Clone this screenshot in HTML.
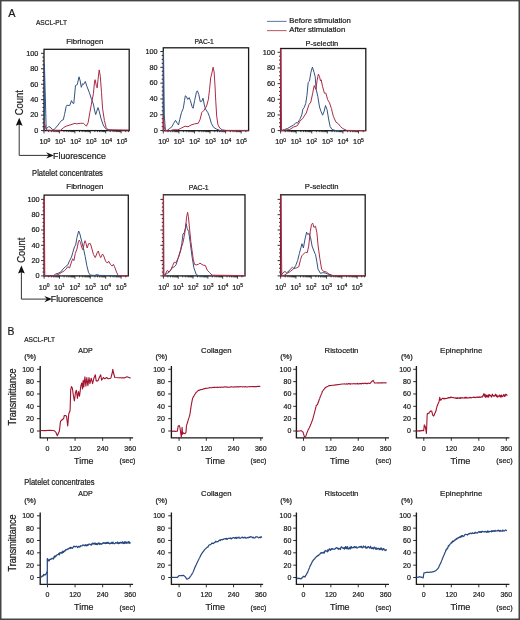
<!DOCTYPE html><html><head><meta charset="utf-8"><style>html,body{margin:0;padding:0;background:#fff;}svg{display:block;will-change:transform;}text{font-family:"Liberation Sans",sans-serif;fill:#1c1c1c;stroke:#1c1c1c;stroke-width:0.22px;}</style></head><body>
<svg width="520" height="620" viewBox="0 0 520 620">
<rect x="0" y="0" width="520" height="620" fill="#fff"/>
<text x="8.30" y="16.80" font-size="10.8" stroke-width="0.08">A</text>
<text x="35.90" y="24.60" font-size="7.9" textLength="31.10" lengthAdjust="spacingAndGlyphs">ASCL-PLT</text>
<line x1="267" y1="21.4" x2="286.6" y2="21.4" stroke="#6a83aa" stroke-width="1.1"/>
<line x1="267" y1="30.6" x2="286.6" y2="30.6" stroke="#c0606f" stroke-width="1.1"/>
<text x="289.30" y="23.00" font-size="7.5" textLength="61.60" lengthAdjust="spacingAndGlyphs">Before stimulation</text>
<text x="289.30" y="31.70" font-size="7.5" textLength="56.00" lengthAdjust="spacingAndGlyphs">After stimulation</text>
<rect x="44.00" y="49.30" width="85.20" height="81.30" fill="none" stroke="#1a1a1a" stroke-width="1.3"/>
<line x1="41.00" y1="130.60" x2="44.00" y2="130.60" stroke="#1a1a1a" stroke-width="0.9"/>
<line x1="42.40" y1="126.73" x2="44.00" y2="126.73" stroke="#1a1a1a" stroke-width="0.9"/>
<line x1="42.40" y1="122.87" x2="44.00" y2="122.87" stroke="#1a1a1a" stroke-width="0.9"/>
<line x1="42.40" y1="119.00" x2="44.00" y2="119.00" stroke="#1a1a1a" stroke-width="0.9"/>
<line x1="41.00" y1="115.14" x2="44.00" y2="115.14" stroke="#1a1a1a" stroke-width="0.9"/>
<line x1="42.40" y1="111.27" x2="44.00" y2="111.27" stroke="#1a1a1a" stroke-width="0.9"/>
<line x1="42.40" y1="107.41" x2="44.00" y2="107.41" stroke="#1a1a1a" stroke-width="0.9"/>
<line x1="42.40" y1="103.54" x2="44.00" y2="103.54" stroke="#1a1a1a" stroke-width="0.9"/>
<line x1="41.00" y1="99.68" x2="44.00" y2="99.68" stroke="#1a1a1a" stroke-width="0.9"/>
<line x1="42.40" y1="95.81" x2="44.00" y2="95.81" stroke="#1a1a1a" stroke-width="0.9"/>
<line x1="42.40" y1="91.95" x2="44.00" y2="91.95" stroke="#1a1a1a" stroke-width="0.9"/>
<line x1="42.40" y1="88.08" x2="44.00" y2="88.08" stroke="#1a1a1a" stroke-width="0.9"/>
<line x1="41.00" y1="84.22" x2="44.00" y2="84.22" stroke="#1a1a1a" stroke-width="0.9"/>
<line x1="42.40" y1="80.35" x2="44.00" y2="80.35" stroke="#1a1a1a" stroke-width="0.9"/>
<line x1="42.40" y1="76.49" x2="44.00" y2="76.49" stroke="#1a1a1a" stroke-width="0.9"/>
<line x1="42.40" y1="72.62" x2="44.00" y2="72.62" stroke="#1a1a1a" stroke-width="0.9"/>
<line x1="41.00" y1="68.76" x2="44.00" y2="68.76" stroke="#1a1a1a" stroke-width="0.9"/>
<line x1="42.40" y1="64.89" x2="44.00" y2="64.89" stroke="#1a1a1a" stroke-width="0.9"/>
<line x1="42.40" y1="61.03" x2="44.00" y2="61.03" stroke="#1a1a1a" stroke-width="0.9"/>
<line x1="42.40" y1="57.16" x2="44.00" y2="57.16" stroke="#1a1a1a" stroke-width="0.9"/>
<line x1="41.00" y1="53.30" x2="44.00" y2="53.30" stroke="#1a1a1a" stroke-width="0.9"/>
<line x1="44.00" y1="130.60" x2="44.00" y2="133.40" stroke="#1a1a1a" stroke-width="0.8"/>
<line x1="48.64" y1="130.60" x2="48.64" y2="132.10" stroke="#1a1a1a" stroke-width="0.8"/>
<line x1="51.36" y1="130.60" x2="51.36" y2="132.10" stroke="#1a1a1a" stroke-width="0.8"/>
<line x1="53.28" y1="130.60" x2="53.28" y2="132.10" stroke="#1a1a1a" stroke-width="0.8"/>
<line x1="54.78" y1="130.60" x2="54.78" y2="132.10" stroke="#1a1a1a" stroke-width="0.8"/>
<line x1="56.00" y1="130.60" x2="56.00" y2="132.10" stroke="#1a1a1a" stroke-width="0.8"/>
<line x1="57.03" y1="130.60" x2="57.03" y2="132.10" stroke="#1a1a1a" stroke-width="0.8"/>
<line x1="57.93" y1="130.60" x2="57.93" y2="132.10" stroke="#1a1a1a" stroke-width="0.8"/>
<line x1="58.71" y1="130.60" x2="58.71" y2="132.10" stroke="#1a1a1a" stroke-width="0.8"/>
<line x1="59.42" y1="130.60" x2="59.42" y2="133.40" stroke="#1a1a1a" stroke-width="0.8"/>
<line x1="64.06" y1="130.60" x2="64.06" y2="132.10" stroke="#1a1a1a" stroke-width="0.8"/>
<line x1="66.78" y1="130.60" x2="66.78" y2="132.10" stroke="#1a1a1a" stroke-width="0.8"/>
<line x1="68.70" y1="130.60" x2="68.70" y2="132.10" stroke="#1a1a1a" stroke-width="0.8"/>
<line x1="70.20" y1="130.60" x2="70.20" y2="132.10" stroke="#1a1a1a" stroke-width="0.8"/>
<line x1="71.42" y1="130.60" x2="71.42" y2="132.10" stroke="#1a1a1a" stroke-width="0.8"/>
<line x1="72.45" y1="130.60" x2="72.45" y2="132.10" stroke="#1a1a1a" stroke-width="0.8"/>
<line x1="73.35" y1="130.60" x2="73.35" y2="132.10" stroke="#1a1a1a" stroke-width="0.8"/>
<line x1="74.13" y1="130.60" x2="74.13" y2="132.10" stroke="#1a1a1a" stroke-width="0.8"/>
<line x1="74.84" y1="130.60" x2="74.84" y2="133.40" stroke="#1a1a1a" stroke-width="0.8"/>
<line x1="79.48" y1="130.60" x2="79.48" y2="132.10" stroke="#1a1a1a" stroke-width="0.8"/>
<line x1="82.20" y1="130.60" x2="82.20" y2="132.10" stroke="#1a1a1a" stroke-width="0.8"/>
<line x1="84.12" y1="130.60" x2="84.12" y2="132.10" stroke="#1a1a1a" stroke-width="0.8"/>
<line x1="85.62" y1="130.60" x2="85.62" y2="132.10" stroke="#1a1a1a" stroke-width="0.8"/>
<line x1="86.84" y1="130.60" x2="86.84" y2="132.10" stroke="#1a1a1a" stroke-width="0.8"/>
<line x1="87.87" y1="130.60" x2="87.87" y2="132.10" stroke="#1a1a1a" stroke-width="0.8"/>
<line x1="88.77" y1="130.60" x2="88.77" y2="132.10" stroke="#1a1a1a" stroke-width="0.8"/>
<line x1="89.55" y1="130.60" x2="89.55" y2="132.10" stroke="#1a1a1a" stroke-width="0.8"/>
<line x1="90.26" y1="130.60" x2="90.26" y2="133.40" stroke="#1a1a1a" stroke-width="0.8"/>
<line x1="94.90" y1="130.60" x2="94.90" y2="132.10" stroke="#1a1a1a" stroke-width="0.8"/>
<line x1="97.62" y1="130.60" x2="97.62" y2="132.10" stroke="#1a1a1a" stroke-width="0.8"/>
<line x1="99.54" y1="130.60" x2="99.54" y2="132.10" stroke="#1a1a1a" stroke-width="0.8"/>
<line x1="101.04" y1="130.60" x2="101.04" y2="132.10" stroke="#1a1a1a" stroke-width="0.8"/>
<line x1="102.26" y1="130.60" x2="102.26" y2="132.10" stroke="#1a1a1a" stroke-width="0.8"/>
<line x1="103.29" y1="130.60" x2="103.29" y2="132.10" stroke="#1a1a1a" stroke-width="0.8"/>
<line x1="104.19" y1="130.60" x2="104.19" y2="132.10" stroke="#1a1a1a" stroke-width="0.8"/>
<line x1="104.97" y1="130.60" x2="104.97" y2="132.10" stroke="#1a1a1a" stroke-width="0.8"/>
<line x1="105.68" y1="130.60" x2="105.68" y2="133.40" stroke="#1a1a1a" stroke-width="0.8"/>
<line x1="110.32" y1="130.60" x2="110.32" y2="132.10" stroke="#1a1a1a" stroke-width="0.8"/>
<line x1="113.04" y1="130.60" x2="113.04" y2="132.10" stroke="#1a1a1a" stroke-width="0.8"/>
<line x1="114.96" y1="130.60" x2="114.96" y2="132.10" stroke="#1a1a1a" stroke-width="0.8"/>
<line x1="116.46" y1="130.60" x2="116.46" y2="132.10" stroke="#1a1a1a" stroke-width="0.8"/>
<line x1="117.68" y1="130.60" x2="117.68" y2="132.10" stroke="#1a1a1a" stroke-width="0.8"/>
<line x1="118.71" y1="130.60" x2="118.71" y2="132.10" stroke="#1a1a1a" stroke-width="0.8"/>
<line x1="119.61" y1="130.60" x2="119.61" y2="132.10" stroke="#1a1a1a" stroke-width="0.8"/>
<line x1="120.39" y1="130.60" x2="120.39" y2="132.10" stroke="#1a1a1a" stroke-width="0.8"/>
<line x1="121.10" y1="130.60" x2="121.10" y2="133.40" stroke="#1a1a1a" stroke-width="0.8"/>
<line x1="125.74" y1="130.60" x2="125.74" y2="132.10" stroke="#1a1a1a" stroke-width="0.8"/>
<line x1="128.46" y1="130.60" x2="128.46" y2="132.10" stroke="#1a1a1a" stroke-width="0.8"/>
<text x="38.40" y="132.90" font-size="7.3" text-anchor="end">0</text>
<text x="38.40" y="117.44" font-size="7.3" text-anchor="end">20</text>
<text x="38.40" y="101.98" font-size="7.3" text-anchor="end">40</text>
<text x="38.40" y="86.52" font-size="7.3" text-anchor="end">60</text>
<text x="38.40" y="71.06" font-size="7.3" text-anchor="end">80</text>
<text x="38.40" y="55.60" font-size="7.3" text-anchor="end">100</text>
<text x="39.50" y="144.30" font-size="7.4" textLength="8.10" lengthAdjust="spacingAndGlyphs">10</text>
<text x="47.50" y="141.60" font-size="5.0">0</text>
<text x="54.92" y="144.30" font-size="7.4" textLength="8.10" lengthAdjust="spacingAndGlyphs">10</text>
<text x="62.92" y="141.60" font-size="5.0">1</text>
<text x="70.34" y="144.30" font-size="7.4" textLength="8.10" lengthAdjust="spacingAndGlyphs">10</text>
<text x="78.34" y="141.60" font-size="5.0">2</text>
<text x="85.76" y="144.30" font-size="7.4" textLength="8.10" lengthAdjust="spacingAndGlyphs">10</text>
<text x="93.76" y="141.60" font-size="5.0">3</text>
<text x="101.18" y="144.30" font-size="7.4" textLength="8.10" lengthAdjust="spacingAndGlyphs">10</text>
<text x="109.18" y="141.60" font-size="5.0">4</text>
<text x="116.60" y="144.30" font-size="7.4" textLength="8.10" lengthAdjust="spacingAndGlyphs">10</text>
<text x="124.60" y="141.60" font-size="5.0">5</text>
<text x="66.30" y="43.80" font-size="7.6" textLength="37.10" lengthAdjust="spacingAndGlyphs">Fibrinogen</text>
<rect x="163.30" y="47.80" width="85.30" height="82.90" fill="none" stroke="#1a1a1a" stroke-width="1.3"/>
<line x1="160.30" y1="130.60" x2="163.30" y2="130.60" stroke="#1a1a1a" stroke-width="0.9"/>
<line x1="161.70" y1="126.64" x2="163.30" y2="126.64" stroke="#1a1a1a" stroke-width="0.9"/>
<line x1="161.70" y1="122.69" x2="163.30" y2="122.69" stroke="#1a1a1a" stroke-width="0.9"/>
<line x1="161.70" y1="118.73" x2="163.30" y2="118.73" stroke="#1a1a1a" stroke-width="0.9"/>
<line x1="160.30" y1="114.78" x2="163.30" y2="114.78" stroke="#1a1a1a" stroke-width="0.9"/>
<line x1="161.70" y1="110.82" x2="163.30" y2="110.82" stroke="#1a1a1a" stroke-width="0.9"/>
<line x1="161.70" y1="106.87" x2="163.30" y2="106.87" stroke="#1a1a1a" stroke-width="0.9"/>
<line x1="161.70" y1="102.91" x2="163.30" y2="102.91" stroke="#1a1a1a" stroke-width="0.9"/>
<line x1="160.30" y1="98.96" x2="163.30" y2="98.96" stroke="#1a1a1a" stroke-width="0.9"/>
<line x1="161.70" y1="95.00" x2="163.30" y2="95.00" stroke="#1a1a1a" stroke-width="0.9"/>
<line x1="161.70" y1="91.05" x2="163.30" y2="91.05" stroke="#1a1a1a" stroke-width="0.9"/>
<line x1="161.70" y1="87.09" x2="163.30" y2="87.09" stroke="#1a1a1a" stroke-width="0.9"/>
<line x1="160.30" y1="83.14" x2="163.30" y2="83.14" stroke="#1a1a1a" stroke-width="0.9"/>
<line x1="161.70" y1="79.19" x2="163.30" y2="79.19" stroke="#1a1a1a" stroke-width="0.9"/>
<line x1="161.70" y1="75.23" x2="163.30" y2="75.23" stroke="#1a1a1a" stroke-width="0.9"/>
<line x1="161.70" y1="71.28" x2="163.30" y2="71.28" stroke="#1a1a1a" stroke-width="0.9"/>
<line x1="160.30" y1="67.32" x2="163.30" y2="67.32" stroke="#1a1a1a" stroke-width="0.9"/>
<line x1="161.70" y1="63.36" x2="163.30" y2="63.36" stroke="#1a1a1a" stroke-width="0.9"/>
<line x1="161.70" y1="59.41" x2="163.30" y2="59.41" stroke="#1a1a1a" stroke-width="0.9"/>
<line x1="161.70" y1="55.45" x2="163.30" y2="55.45" stroke="#1a1a1a" stroke-width="0.9"/>
<line x1="160.30" y1="51.50" x2="163.30" y2="51.50" stroke="#1a1a1a" stroke-width="0.9"/>
<line x1="163.30" y1="130.70" x2="163.30" y2="133.50" stroke="#1a1a1a" stroke-width="0.8"/>
<line x1="167.99" y1="130.70" x2="167.99" y2="132.20" stroke="#1a1a1a" stroke-width="0.8"/>
<line x1="170.73" y1="130.70" x2="170.73" y2="132.20" stroke="#1a1a1a" stroke-width="0.8"/>
<line x1="172.68" y1="130.70" x2="172.68" y2="132.20" stroke="#1a1a1a" stroke-width="0.8"/>
<line x1="174.19" y1="130.70" x2="174.19" y2="132.20" stroke="#1a1a1a" stroke-width="0.8"/>
<line x1="175.42" y1="130.70" x2="175.42" y2="132.20" stroke="#1a1a1a" stroke-width="0.8"/>
<line x1="176.47" y1="130.70" x2="176.47" y2="132.20" stroke="#1a1a1a" stroke-width="0.8"/>
<line x1="177.37" y1="130.70" x2="177.37" y2="132.20" stroke="#1a1a1a" stroke-width="0.8"/>
<line x1="178.17" y1="130.70" x2="178.17" y2="132.20" stroke="#1a1a1a" stroke-width="0.8"/>
<line x1="178.88" y1="130.70" x2="178.88" y2="133.50" stroke="#1a1a1a" stroke-width="0.8"/>
<line x1="183.57" y1="130.70" x2="183.57" y2="132.20" stroke="#1a1a1a" stroke-width="0.8"/>
<line x1="186.31" y1="130.70" x2="186.31" y2="132.20" stroke="#1a1a1a" stroke-width="0.8"/>
<line x1="188.26" y1="130.70" x2="188.26" y2="132.20" stroke="#1a1a1a" stroke-width="0.8"/>
<line x1="189.77" y1="130.70" x2="189.77" y2="132.20" stroke="#1a1a1a" stroke-width="0.8"/>
<line x1="191.00" y1="130.70" x2="191.00" y2="132.20" stroke="#1a1a1a" stroke-width="0.8"/>
<line x1="192.05" y1="130.70" x2="192.05" y2="132.20" stroke="#1a1a1a" stroke-width="0.8"/>
<line x1="192.95" y1="130.70" x2="192.95" y2="132.20" stroke="#1a1a1a" stroke-width="0.8"/>
<line x1="193.75" y1="130.70" x2="193.75" y2="132.20" stroke="#1a1a1a" stroke-width="0.8"/>
<line x1="194.46" y1="130.70" x2="194.46" y2="133.50" stroke="#1a1a1a" stroke-width="0.8"/>
<line x1="199.15" y1="130.70" x2="199.15" y2="132.20" stroke="#1a1a1a" stroke-width="0.8"/>
<line x1="201.89" y1="130.70" x2="201.89" y2="132.20" stroke="#1a1a1a" stroke-width="0.8"/>
<line x1="203.84" y1="130.70" x2="203.84" y2="132.20" stroke="#1a1a1a" stroke-width="0.8"/>
<line x1="205.35" y1="130.70" x2="205.35" y2="132.20" stroke="#1a1a1a" stroke-width="0.8"/>
<line x1="206.58" y1="130.70" x2="206.58" y2="132.20" stroke="#1a1a1a" stroke-width="0.8"/>
<line x1="207.63" y1="130.70" x2="207.63" y2="132.20" stroke="#1a1a1a" stroke-width="0.8"/>
<line x1="208.53" y1="130.70" x2="208.53" y2="132.20" stroke="#1a1a1a" stroke-width="0.8"/>
<line x1="209.33" y1="130.70" x2="209.33" y2="132.20" stroke="#1a1a1a" stroke-width="0.8"/>
<line x1="210.04" y1="130.70" x2="210.04" y2="133.50" stroke="#1a1a1a" stroke-width="0.8"/>
<line x1="214.73" y1="130.70" x2="214.73" y2="132.20" stroke="#1a1a1a" stroke-width="0.8"/>
<line x1="217.47" y1="130.70" x2="217.47" y2="132.20" stroke="#1a1a1a" stroke-width="0.8"/>
<line x1="219.42" y1="130.70" x2="219.42" y2="132.20" stroke="#1a1a1a" stroke-width="0.8"/>
<line x1="220.93" y1="130.70" x2="220.93" y2="132.20" stroke="#1a1a1a" stroke-width="0.8"/>
<line x1="222.16" y1="130.70" x2="222.16" y2="132.20" stroke="#1a1a1a" stroke-width="0.8"/>
<line x1="223.21" y1="130.70" x2="223.21" y2="132.20" stroke="#1a1a1a" stroke-width="0.8"/>
<line x1="224.11" y1="130.70" x2="224.11" y2="132.20" stroke="#1a1a1a" stroke-width="0.8"/>
<line x1="224.91" y1="130.70" x2="224.91" y2="132.20" stroke="#1a1a1a" stroke-width="0.8"/>
<line x1="225.62" y1="130.70" x2="225.62" y2="133.50" stroke="#1a1a1a" stroke-width="0.8"/>
<line x1="230.31" y1="130.70" x2="230.31" y2="132.20" stroke="#1a1a1a" stroke-width="0.8"/>
<line x1="233.05" y1="130.70" x2="233.05" y2="132.20" stroke="#1a1a1a" stroke-width="0.8"/>
<line x1="235.00" y1="130.70" x2="235.00" y2="132.20" stroke="#1a1a1a" stroke-width="0.8"/>
<line x1="236.51" y1="130.70" x2="236.51" y2="132.20" stroke="#1a1a1a" stroke-width="0.8"/>
<line x1="237.74" y1="130.70" x2="237.74" y2="132.20" stroke="#1a1a1a" stroke-width="0.8"/>
<line x1="238.79" y1="130.70" x2="238.79" y2="132.20" stroke="#1a1a1a" stroke-width="0.8"/>
<line x1="239.69" y1="130.70" x2="239.69" y2="132.20" stroke="#1a1a1a" stroke-width="0.8"/>
<line x1="240.49" y1="130.70" x2="240.49" y2="132.20" stroke="#1a1a1a" stroke-width="0.8"/>
<line x1="241.20" y1="130.70" x2="241.20" y2="133.50" stroke="#1a1a1a" stroke-width="0.8"/>
<line x1="245.89" y1="130.70" x2="245.89" y2="132.20" stroke="#1a1a1a" stroke-width="0.8"/>
<text x="157.70" y="132.90" font-size="7.3" text-anchor="end">0</text>
<text x="157.70" y="117.08" font-size="7.3" text-anchor="end">20</text>
<text x="157.70" y="101.26" font-size="7.3" text-anchor="end">40</text>
<text x="157.70" y="85.44" font-size="7.3" text-anchor="end">60</text>
<text x="157.70" y="69.62" font-size="7.3" text-anchor="end">80</text>
<text x="157.70" y="53.80" font-size="7.3" text-anchor="end">100</text>
<text x="158.20" y="144.30" font-size="7.4" textLength="8.10" lengthAdjust="spacingAndGlyphs">10</text>
<text x="166.20" y="141.60" font-size="5.0">0</text>
<text x="173.78" y="144.30" font-size="7.4" textLength="8.10" lengthAdjust="spacingAndGlyphs">10</text>
<text x="181.78" y="141.60" font-size="5.0">1</text>
<text x="189.36" y="144.30" font-size="7.4" textLength="8.10" lengthAdjust="spacingAndGlyphs">10</text>
<text x="197.36" y="141.60" font-size="5.0">2</text>
<text x="204.94" y="144.30" font-size="7.4" textLength="8.10" lengthAdjust="spacingAndGlyphs">10</text>
<text x="212.94" y="141.60" font-size="5.0">3</text>
<text x="220.52" y="144.30" font-size="7.4" textLength="8.10" lengthAdjust="spacingAndGlyphs">10</text>
<text x="228.52" y="141.60" font-size="5.0">4</text>
<text x="236.10" y="144.30" font-size="7.4" textLength="8.10" lengthAdjust="spacingAndGlyphs">10</text>
<text x="244.10" y="141.60" font-size="5.0">5</text>
<text x="194.50" y="43.80" font-size="7.6" textLength="19.30" lengthAdjust="spacingAndGlyphs">PAC-1</text>
<rect x="280.60" y="48.50" width="85.20" height="82.20" fill="none" stroke="#1a1a1a" stroke-width="1.3"/>
<line x1="277.60" y1="130.60" x2="280.60" y2="130.60" stroke="#1a1a1a" stroke-width="0.9"/>
<line x1="279.00" y1="126.68" x2="280.60" y2="126.68" stroke="#1a1a1a" stroke-width="0.9"/>
<line x1="279.00" y1="122.77" x2="280.60" y2="122.77" stroke="#1a1a1a" stroke-width="0.9"/>
<line x1="279.00" y1="118.85" x2="280.60" y2="118.85" stroke="#1a1a1a" stroke-width="0.9"/>
<line x1="277.60" y1="114.94" x2="280.60" y2="114.94" stroke="#1a1a1a" stroke-width="0.9"/>
<line x1="279.00" y1="111.02" x2="280.60" y2="111.02" stroke="#1a1a1a" stroke-width="0.9"/>
<line x1="279.00" y1="107.11" x2="280.60" y2="107.11" stroke="#1a1a1a" stroke-width="0.9"/>
<line x1="279.00" y1="103.19" x2="280.60" y2="103.19" stroke="#1a1a1a" stroke-width="0.9"/>
<line x1="277.60" y1="99.28" x2="280.60" y2="99.28" stroke="#1a1a1a" stroke-width="0.9"/>
<line x1="279.00" y1="95.36" x2="280.60" y2="95.36" stroke="#1a1a1a" stroke-width="0.9"/>
<line x1="279.00" y1="91.45" x2="280.60" y2="91.45" stroke="#1a1a1a" stroke-width="0.9"/>
<line x1="279.00" y1="87.53" x2="280.60" y2="87.53" stroke="#1a1a1a" stroke-width="0.9"/>
<line x1="277.60" y1="83.62" x2="280.60" y2="83.62" stroke="#1a1a1a" stroke-width="0.9"/>
<line x1="279.00" y1="79.70" x2="280.60" y2="79.70" stroke="#1a1a1a" stroke-width="0.9"/>
<line x1="279.00" y1="75.79" x2="280.60" y2="75.79" stroke="#1a1a1a" stroke-width="0.9"/>
<line x1="279.00" y1="71.88" x2="280.60" y2="71.88" stroke="#1a1a1a" stroke-width="0.9"/>
<line x1="277.60" y1="67.96" x2="280.60" y2="67.96" stroke="#1a1a1a" stroke-width="0.9"/>
<line x1="279.00" y1="64.05" x2="280.60" y2="64.05" stroke="#1a1a1a" stroke-width="0.9"/>
<line x1="279.00" y1="60.13" x2="280.60" y2="60.13" stroke="#1a1a1a" stroke-width="0.9"/>
<line x1="279.00" y1="56.22" x2="280.60" y2="56.22" stroke="#1a1a1a" stroke-width="0.9"/>
<line x1="277.60" y1="52.30" x2="280.60" y2="52.30" stroke="#1a1a1a" stroke-width="0.9"/>
<line x1="280.60" y1="130.70" x2="280.60" y2="133.50" stroke="#1a1a1a" stroke-width="0.8"/>
<line x1="285.29" y1="130.70" x2="285.29" y2="132.20" stroke="#1a1a1a" stroke-width="0.8"/>
<line x1="288.03" y1="130.70" x2="288.03" y2="132.20" stroke="#1a1a1a" stroke-width="0.8"/>
<line x1="289.98" y1="130.70" x2="289.98" y2="132.20" stroke="#1a1a1a" stroke-width="0.8"/>
<line x1="291.49" y1="130.70" x2="291.49" y2="132.20" stroke="#1a1a1a" stroke-width="0.8"/>
<line x1="292.72" y1="130.70" x2="292.72" y2="132.20" stroke="#1a1a1a" stroke-width="0.8"/>
<line x1="293.77" y1="130.70" x2="293.77" y2="132.20" stroke="#1a1a1a" stroke-width="0.8"/>
<line x1="294.67" y1="130.70" x2="294.67" y2="132.20" stroke="#1a1a1a" stroke-width="0.8"/>
<line x1="295.47" y1="130.70" x2="295.47" y2="132.20" stroke="#1a1a1a" stroke-width="0.8"/>
<line x1="296.18" y1="130.70" x2="296.18" y2="133.50" stroke="#1a1a1a" stroke-width="0.8"/>
<line x1="300.87" y1="130.70" x2="300.87" y2="132.20" stroke="#1a1a1a" stroke-width="0.8"/>
<line x1="303.61" y1="130.70" x2="303.61" y2="132.20" stroke="#1a1a1a" stroke-width="0.8"/>
<line x1="305.56" y1="130.70" x2="305.56" y2="132.20" stroke="#1a1a1a" stroke-width="0.8"/>
<line x1="307.07" y1="130.70" x2="307.07" y2="132.20" stroke="#1a1a1a" stroke-width="0.8"/>
<line x1="308.30" y1="130.70" x2="308.30" y2="132.20" stroke="#1a1a1a" stroke-width="0.8"/>
<line x1="309.35" y1="130.70" x2="309.35" y2="132.20" stroke="#1a1a1a" stroke-width="0.8"/>
<line x1="310.25" y1="130.70" x2="310.25" y2="132.20" stroke="#1a1a1a" stroke-width="0.8"/>
<line x1="311.05" y1="130.70" x2="311.05" y2="132.20" stroke="#1a1a1a" stroke-width="0.8"/>
<line x1="311.76" y1="130.70" x2="311.76" y2="133.50" stroke="#1a1a1a" stroke-width="0.8"/>
<line x1="316.45" y1="130.70" x2="316.45" y2="132.20" stroke="#1a1a1a" stroke-width="0.8"/>
<line x1="319.19" y1="130.70" x2="319.19" y2="132.20" stroke="#1a1a1a" stroke-width="0.8"/>
<line x1="321.14" y1="130.70" x2="321.14" y2="132.20" stroke="#1a1a1a" stroke-width="0.8"/>
<line x1="322.65" y1="130.70" x2="322.65" y2="132.20" stroke="#1a1a1a" stroke-width="0.8"/>
<line x1="323.88" y1="130.70" x2="323.88" y2="132.20" stroke="#1a1a1a" stroke-width="0.8"/>
<line x1="324.93" y1="130.70" x2="324.93" y2="132.20" stroke="#1a1a1a" stroke-width="0.8"/>
<line x1="325.83" y1="130.70" x2="325.83" y2="132.20" stroke="#1a1a1a" stroke-width="0.8"/>
<line x1="326.63" y1="130.70" x2="326.63" y2="132.20" stroke="#1a1a1a" stroke-width="0.8"/>
<line x1="327.34" y1="130.70" x2="327.34" y2="133.50" stroke="#1a1a1a" stroke-width="0.8"/>
<line x1="332.03" y1="130.70" x2="332.03" y2="132.20" stroke="#1a1a1a" stroke-width="0.8"/>
<line x1="334.77" y1="130.70" x2="334.77" y2="132.20" stroke="#1a1a1a" stroke-width="0.8"/>
<line x1="336.72" y1="130.70" x2="336.72" y2="132.20" stroke="#1a1a1a" stroke-width="0.8"/>
<line x1="338.23" y1="130.70" x2="338.23" y2="132.20" stroke="#1a1a1a" stroke-width="0.8"/>
<line x1="339.46" y1="130.70" x2="339.46" y2="132.20" stroke="#1a1a1a" stroke-width="0.8"/>
<line x1="340.51" y1="130.70" x2="340.51" y2="132.20" stroke="#1a1a1a" stroke-width="0.8"/>
<line x1="341.41" y1="130.70" x2="341.41" y2="132.20" stroke="#1a1a1a" stroke-width="0.8"/>
<line x1="342.21" y1="130.70" x2="342.21" y2="132.20" stroke="#1a1a1a" stroke-width="0.8"/>
<line x1="342.92" y1="130.70" x2="342.92" y2="133.50" stroke="#1a1a1a" stroke-width="0.8"/>
<line x1="347.61" y1="130.70" x2="347.61" y2="132.20" stroke="#1a1a1a" stroke-width="0.8"/>
<line x1="350.35" y1="130.70" x2="350.35" y2="132.20" stroke="#1a1a1a" stroke-width="0.8"/>
<line x1="352.30" y1="130.70" x2="352.30" y2="132.20" stroke="#1a1a1a" stroke-width="0.8"/>
<line x1="353.81" y1="130.70" x2="353.81" y2="132.20" stroke="#1a1a1a" stroke-width="0.8"/>
<line x1="355.04" y1="130.70" x2="355.04" y2="132.20" stroke="#1a1a1a" stroke-width="0.8"/>
<line x1="356.09" y1="130.70" x2="356.09" y2="132.20" stroke="#1a1a1a" stroke-width="0.8"/>
<line x1="356.99" y1="130.70" x2="356.99" y2="132.20" stroke="#1a1a1a" stroke-width="0.8"/>
<line x1="357.79" y1="130.70" x2="357.79" y2="132.20" stroke="#1a1a1a" stroke-width="0.8"/>
<line x1="358.50" y1="130.70" x2="358.50" y2="133.50" stroke="#1a1a1a" stroke-width="0.8"/>
<line x1="363.19" y1="130.70" x2="363.19" y2="132.20" stroke="#1a1a1a" stroke-width="0.8"/>
<text x="275.00" y="132.90" font-size="7.3" text-anchor="end">0</text>
<text x="275.00" y="117.24" font-size="7.3" text-anchor="end">20</text>
<text x="275.00" y="101.58" font-size="7.3" text-anchor="end">40</text>
<text x="275.00" y="85.92" font-size="7.3" text-anchor="end">60</text>
<text x="275.00" y="70.26" font-size="7.3" text-anchor="end">80</text>
<text x="275.00" y="54.60" font-size="7.3" text-anchor="end">100</text>
<text x="275.20" y="144.30" font-size="7.4" textLength="8.10" lengthAdjust="spacingAndGlyphs">10</text>
<text x="283.20" y="141.60" font-size="5.0">0</text>
<text x="290.78" y="144.30" font-size="7.4" textLength="8.10" lengthAdjust="spacingAndGlyphs">10</text>
<text x="298.78" y="141.60" font-size="5.0">1</text>
<text x="306.36" y="144.30" font-size="7.4" textLength="8.10" lengthAdjust="spacingAndGlyphs">10</text>
<text x="314.36" y="141.60" font-size="5.0">2</text>
<text x="321.94" y="144.30" font-size="7.4" textLength="8.10" lengthAdjust="spacingAndGlyphs">10</text>
<text x="329.94" y="141.60" font-size="5.0">3</text>
<text x="337.52" y="144.30" font-size="7.4" textLength="8.10" lengthAdjust="spacingAndGlyphs">10</text>
<text x="345.52" y="141.60" font-size="5.0">4</text>
<text x="353.10" y="144.30" font-size="7.4" textLength="8.10" lengthAdjust="spacingAndGlyphs">10</text>
<text x="361.10" y="141.60" font-size="5.0">5</text>
<text x="305.60" y="45.50" font-size="7.6" textLength="32.60" lengthAdjust="spacingAndGlyphs">P-selectin</text>
<polyline points="44.40,130.50 44.40,63.90 46.20,129.00 48.70,126.50 50.00,127.10 52.80,129.60 54.00,129.70 58.10,125.00 59.70,122.80 61.60,120.40 63.30,119.80 64.50,114.60 66.20,106.50 66.80,105.30 69.70,105.50 71.50,100.60 72.60,103.00 73.80,103.50 75.50,85.50 77.30,84.60 79.00,76.80 80.20,80.90 81.30,87.30 82.50,83.80 83.60,84.40 85.30,81.50 87.00,86.70 89.30,92.50 91.60,99.50 93.40,104.10 94.50,110.00 95.70,114.60 96.80,111.10 98.00,107.60 99.20,111.10 100.90,118.10 103.20,125.00 105.50,128.50 107.90,130.00 112.50,130.30" fill="none" stroke="#34527f" stroke-width="1.0" stroke-linejoin="round" stroke-linecap="round"/>
<polyline points="44.10,122.00 46.40,130.10 50.00,130.30 60.40,130.30 63.90,127.40 66.20,126.20 70.90,124.70 75.00,123.30 76.70,123.90 80.20,123.30 83.50,123.30 86.40,126.20 88.10,122.70 89.90,112.30 91.60,103.00 93.40,93.70 94.50,82.10 95.10,79.70 96.30,85.50 97.20,87.90 98.00,79.70 99.20,69.90 100.30,76.30 101.50,92.50 102.60,108.80 104.40,120.40 106.10,127.40 107.90,129.70 128.80,130.10" fill="none" stroke="#ad2a46" stroke-width="1.0" stroke-linejoin="round" stroke-linecap="round"/>
<polyline points="163.50,130.50 163.50,51.00 164.30,115.00 165.40,130.40 167.20,130.40 169.50,128.60 171.90,126.80 173.70,123.30 175.50,120.30 177.30,123.30 178.50,125.00 179.70,119.70 181.50,112.50 183.30,108.30 184.50,100.60 185.30,95.80 186.30,96.40 187.70,99.40 189.20,97.60 190.40,100.60 192.00,106.50 193.10,108.30 194.60,100.60 196.40,92.20 197.40,90.80 198.80,94.60 200.30,101.80 201.80,101.20 203.00,98.20 204.20,104.20 205.40,108.90 207.80,112.50 209.50,116.70 211.30,123.30 213.70,127.40 216.70,129.20 220.30,130.60 225.10,130.80" fill="none" stroke="#34527f" stroke-width="1.0" stroke-linejoin="round" stroke-linecap="round"/>
<polyline points="163.40,130.50 163.40,116.00 164.20,126.80 165.40,131.00 169.50,130.80 173.10,129.80 177.90,129.80 180.30,128.60 185.10,126.20 188.00,126.80 191.00,125.00 194.60,123.90 198.20,123.30 200.00,119.70 201.80,112.50 204.20,110.10 206.60,106.00 208.40,99.40 209.50,89.80 210.70,77.90 211.90,73.10 213.10,67.20 214.10,71.90 214.90,83.90 215.80,101.80 216.70,116.10 217.90,124.50 219.70,128.00 222.10,129.80 226.30,130.40 248.00,130.40" fill="none" stroke="#ad2a46" stroke-width="1.0" stroke-linejoin="round" stroke-linecap="round"/>
<polyline points="281.20,130.50 282.10,130.20 284.60,129.50 287.80,128.30 291.00,126.40 293.60,125.10 296.10,122.50 297.40,123.20 299.90,119.30 301.80,114.90 302.90,109.20 304.40,107.20 305.70,103.40 306.90,95.80 308.20,82.40 309.50,81.10 310.80,72.80 312.40,67.10 314.00,72.20 315.20,76.70 316.20,89.40 317.80,96.50 319.50,107.00 321.00,111.50 322.60,115.20 324.20,111.10 325.50,105.50 327.00,109.50 328.80,120.00 330.10,126.40 332.00,129.50 335.80,130.60 343.50,130.80" fill="none" stroke="#34527f" stroke-width="1.0" stroke-linejoin="round" stroke-linecap="round"/>
<polyline points="280.80,130.50 280.80,48.80 281.50,130.60 284.60,130.20 289.70,129.50 293.60,127.00 297.40,125.70 299.90,121.30 302.50,118.70 306.30,113.00 308.90,104.70 310.80,102.10 312.70,93.20 314.20,85.60 315.90,89.40 317.10,80.50 318.40,74.10 319.50,76.50 320.50,81.00 321.20,79.80 322.50,86.20 324.40,93.20 325.90,93.20 327.60,99.60 329.50,102.80 331.40,108.50 333.30,116.20 335.80,121.90 338.40,123.80 340.30,126.40 342.80,128.60 346.70,130.40 365.10,130.60" fill="none" stroke="#ad2a46" stroke-width="1.0" stroke-linejoin="round" stroke-linecap="round"/>
<polyline points="19.20,122.80 19.20,155.40 48.80,155.40" fill="none" stroke="#333" stroke-width="1"/>
<path d="M19.20,117.80 L22.60,125.70 L19.20,124.50 L15.80,125.70 Z" fill="#111"/>
<path d="M53.80,155.40 L46.20,152.30 L48.60,155.40 L46.20,158.50 Z" fill="#111"/>
<text transform="translate(22.9,115.3) rotate(-90)" stroke-width="0.08" font-size="10.6" textLength="25.2" lengthAdjust="spacingAndGlyphs">Count</text>
<text x="53.10" y="158.60" font-size="9.6" textLength="52.70" lengthAdjust="spacingAndGlyphs" stroke-width="0.08">Fluorescence</text>
<text x="32.10" y="175.70" font-size="8.4" textLength="70.80" lengthAdjust="spacingAndGlyphs">Platelet concentrates</text>
<rect x="44.10" y="195.10" width="84.20" height="80.80" fill="none" stroke="#1a1a1a" stroke-width="1.3"/>
<line x1="41.10" y1="275.90" x2="44.10" y2="275.90" stroke="#1a1a1a" stroke-width="0.9"/>
<line x1="42.50" y1="272.07" x2="44.10" y2="272.07" stroke="#1a1a1a" stroke-width="0.9"/>
<line x1="42.50" y1="268.25" x2="44.10" y2="268.25" stroke="#1a1a1a" stroke-width="0.9"/>
<line x1="42.50" y1="264.42" x2="44.10" y2="264.42" stroke="#1a1a1a" stroke-width="0.9"/>
<line x1="41.10" y1="260.60" x2="44.10" y2="260.60" stroke="#1a1a1a" stroke-width="0.9"/>
<line x1="42.50" y1="256.77" x2="44.10" y2="256.77" stroke="#1a1a1a" stroke-width="0.9"/>
<line x1="42.50" y1="252.95" x2="44.10" y2="252.95" stroke="#1a1a1a" stroke-width="0.9"/>
<line x1="42.50" y1="249.12" x2="44.10" y2="249.12" stroke="#1a1a1a" stroke-width="0.9"/>
<line x1="41.10" y1="245.30" x2="44.10" y2="245.30" stroke="#1a1a1a" stroke-width="0.9"/>
<line x1="42.50" y1="241.47" x2="44.10" y2="241.47" stroke="#1a1a1a" stroke-width="0.9"/>
<line x1="42.50" y1="237.65" x2="44.10" y2="237.65" stroke="#1a1a1a" stroke-width="0.9"/>
<line x1="42.50" y1="233.82" x2="44.10" y2="233.82" stroke="#1a1a1a" stroke-width="0.9"/>
<line x1="41.10" y1="230.00" x2="44.10" y2="230.00" stroke="#1a1a1a" stroke-width="0.9"/>
<line x1="42.50" y1="226.18" x2="44.10" y2="226.18" stroke="#1a1a1a" stroke-width="0.9"/>
<line x1="42.50" y1="222.35" x2="44.10" y2="222.35" stroke="#1a1a1a" stroke-width="0.9"/>
<line x1="42.50" y1="218.53" x2="44.10" y2="218.53" stroke="#1a1a1a" stroke-width="0.9"/>
<line x1="41.10" y1="214.70" x2="44.10" y2="214.70" stroke="#1a1a1a" stroke-width="0.9"/>
<line x1="42.50" y1="210.88" x2="44.10" y2="210.88" stroke="#1a1a1a" stroke-width="0.9"/>
<line x1="42.50" y1="207.05" x2="44.10" y2="207.05" stroke="#1a1a1a" stroke-width="0.9"/>
<line x1="42.50" y1="203.23" x2="44.10" y2="203.23" stroke="#1a1a1a" stroke-width="0.9"/>
<line x1="41.10" y1="199.40" x2="44.10" y2="199.40" stroke="#1a1a1a" stroke-width="0.9"/>
<line x1="44.10" y1="275.90" x2="44.10" y2="278.70" stroke="#1a1a1a" stroke-width="0.8"/>
<line x1="48.74" y1="275.90" x2="48.74" y2="277.40" stroke="#1a1a1a" stroke-width="0.8"/>
<line x1="51.45" y1="275.90" x2="51.45" y2="277.40" stroke="#1a1a1a" stroke-width="0.8"/>
<line x1="53.37" y1="275.90" x2="53.37" y2="277.40" stroke="#1a1a1a" stroke-width="0.8"/>
<line x1="54.86" y1="275.90" x2="54.86" y2="277.40" stroke="#1a1a1a" stroke-width="0.8"/>
<line x1="56.08" y1="275.90" x2="56.08" y2="277.40" stroke="#1a1a1a" stroke-width="0.8"/>
<line x1="57.11" y1="275.90" x2="57.11" y2="277.40" stroke="#1a1a1a" stroke-width="0.8"/>
<line x1="58.01" y1="275.90" x2="58.01" y2="277.40" stroke="#1a1a1a" stroke-width="0.8"/>
<line x1="58.80" y1="275.90" x2="58.80" y2="277.40" stroke="#1a1a1a" stroke-width="0.8"/>
<line x1="59.50" y1="275.90" x2="59.50" y2="278.70" stroke="#1a1a1a" stroke-width="0.8"/>
<line x1="64.14" y1="275.90" x2="64.14" y2="277.40" stroke="#1a1a1a" stroke-width="0.8"/>
<line x1="66.85" y1="275.90" x2="66.85" y2="277.40" stroke="#1a1a1a" stroke-width="0.8"/>
<line x1="68.77" y1="275.90" x2="68.77" y2="277.40" stroke="#1a1a1a" stroke-width="0.8"/>
<line x1="70.26" y1="275.90" x2="70.26" y2="277.40" stroke="#1a1a1a" stroke-width="0.8"/>
<line x1="71.48" y1="275.90" x2="71.48" y2="277.40" stroke="#1a1a1a" stroke-width="0.8"/>
<line x1="72.51" y1="275.90" x2="72.51" y2="277.40" stroke="#1a1a1a" stroke-width="0.8"/>
<line x1="73.41" y1="275.90" x2="73.41" y2="277.40" stroke="#1a1a1a" stroke-width="0.8"/>
<line x1="74.20" y1="275.90" x2="74.20" y2="277.40" stroke="#1a1a1a" stroke-width="0.8"/>
<line x1="74.90" y1="275.90" x2="74.90" y2="278.70" stroke="#1a1a1a" stroke-width="0.8"/>
<line x1="79.54" y1="275.90" x2="79.54" y2="277.40" stroke="#1a1a1a" stroke-width="0.8"/>
<line x1="82.25" y1="275.90" x2="82.25" y2="277.40" stroke="#1a1a1a" stroke-width="0.8"/>
<line x1="84.17" y1="275.90" x2="84.17" y2="277.40" stroke="#1a1a1a" stroke-width="0.8"/>
<line x1="85.66" y1="275.90" x2="85.66" y2="277.40" stroke="#1a1a1a" stroke-width="0.8"/>
<line x1="86.88" y1="275.90" x2="86.88" y2="277.40" stroke="#1a1a1a" stroke-width="0.8"/>
<line x1="87.91" y1="275.90" x2="87.91" y2="277.40" stroke="#1a1a1a" stroke-width="0.8"/>
<line x1="88.81" y1="275.90" x2="88.81" y2="277.40" stroke="#1a1a1a" stroke-width="0.8"/>
<line x1="89.60" y1="275.90" x2="89.60" y2="277.40" stroke="#1a1a1a" stroke-width="0.8"/>
<line x1="90.30" y1="275.90" x2="90.30" y2="278.70" stroke="#1a1a1a" stroke-width="0.8"/>
<line x1="94.94" y1="275.90" x2="94.94" y2="277.40" stroke="#1a1a1a" stroke-width="0.8"/>
<line x1="97.65" y1="275.90" x2="97.65" y2="277.40" stroke="#1a1a1a" stroke-width="0.8"/>
<line x1="99.57" y1="275.90" x2="99.57" y2="277.40" stroke="#1a1a1a" stroke-width="0.8"/>
<line x1="101.06" y1="275.90" x2="101.06" y2="277.40" stroke="#1a1a1a" stroke-width="0.8"/>
<line x1="102.28" y1="275.90" x2="102.28" y2="277.40" stroke="#1a1a1a" stroke-width="0.8"/>
<line x1="103.31" y1="275.90" x2="103.31" y2="277.40" stroke="#1a1a1a" stroke-width="0.8"/>
<line x1="104.21" y1="275.90" x2="104.21" y2="277.40" stroke="#1a1a1a" stroke-width="0.8"/>
<line x1="105.00" y1="275.90" x2="105.00" y2="277.40" stroke="#1a1a1a" stroke-width="0.8"/>
<line x1="105.70" y1="275.90" x2="105.70" y2="278.70" stroke="#1a1a1a" stroke-width="0.8"/>
<line x1="110.34" y1="275.90" x2="110.34" y2="277.40" stroke="#1a1a1a" stroke-width="0.8"/>
<line x1="113.05" y1="275.90" x2="113.05" y2="277.40" stroke="#1a1a1a" stroke-width="0.8"/>
<line x1="114.97" y1="275.90" x2="114.97" y2="277.40" stroke="#1a1a1a" stroke-width="0.8"/>
<line x1="116.46" y1="275.90" x2="116.46" y2="277.40" stroke="#1a1a1a" stroke-width="0.8"/>
<line x1="117.68" y1="275.90" x2="117.68" y2="277.40" stroke="#1a1a1a" stroke-width="0.8"/>
<line x1="118.71" y1="275.90" x2="118.71" y2="277.40" stroke="#1a1a1a" stroke-width="0.8"/>
<line x1="119.61" y1="275.90" x2="119.61" y2="277.40" stroke="#1a1a1a" stroke-width="0.8"/>
<line x1="120.40" y1="275.90" x2="120.40" y2="277.40" stroke="#1a1a1a" stroke-width="0.8"/>
<line x1="121.10" y1="275.90" x2="121.10" y2="278.70" stroke="#1a1a1a" stroke-width="0.8"/>
<line x1="125.74" y1="275.90" x2="125.74" y2="277.40" stroke="#1a1a1a" stroke-width="0.8"/>
<text x="39.60" y="278.20" font-size="7.3" text-anchor="end">0</text>
<text x="39.60" y="262.90" font-size="7.3" text-anchor="end">20</text>
<text x="39.60" y="247.60" font-size="7.3" text-anchor="end">40</text>
<text x="39.60" y="232.30" font-size="7.3" text-anchor="end">60</text>
<text x="39.60" y="217.00" font-size="7.3" text-anchor="end">80</text>
<text x="39.60" y="201.70" font-size="7.3" text-anchor="end">100</text>
<text x="38.70" y="289.80" font-size="7.4" textLength="8.10" lengthAdjust="spacingAndGlyphs">10</text>
<text x="46.70" y="287.10" font-size="5.0">0</text>
<text x="54.10" y="289.80" font-size="7.4" textLength="8.10" lengthAdjust="spacingAndGlyphs">10</text>
<text x="62.10" y="287.10" font-size="5.0">1</text>
<text x="69.50" y="289.80" font-size="7.4" textLength="8.10" lengthAdjust="spacingAndGlyphs">10</text>
<text x="77.50" y="287.10" font-size="5.0">2</text>
<text x="84.90" y="289.80" font-size="7.4" textLength="8.10" lengthAdjust="spacingAndGlyphs">10</text>
<text x="92.90" y="287.10" font-size="5.0">3</text>
<text x="100.30" y="289.80" font-size="7.4" textLength="8.10" lengthAdjust="spacingAndGlyphs">10</text>
<text x="108.30" y="287.10" font-size="5.0">4</text>
<text x="115.70" y="289.80" font-size="7.4" textLength="8.10" lengthAdjust="spacingAndGlyphs">10</text>
<text x="123.70" y="287.10" font-size="5.0">5</text>
<text x="66.35" y="188.50" font-size="7.6" textLength="37.05" lengthAdjust="spacingAndGlyphs">Fibrinogen</text>
<rect x="163.40" y="194.80" width="81.60" height="81.10" fill="none" stroke="#1a1a1a" stroke-width="1.3"/>
<line x1="160.40" y1="275.90" x2="163.40" y2="275.90" stroke="#1a1a1a" stroke-width="0.9"/>
<line x1="161.80" y1="272.07" x2="163.40" y2="272.07" stroke="#1a1a1a" stroke-width="0.9"/>
<line x1="161.80" y1="268.25" x2="163.40" y2="268.25" stroke="#1a1a1a" stroke-width="0.9"/>
<line x1="161.80" y1="264.42" x2="163.40" y2="264.42" stroke="#1a1a1a" stroke-width="0.9"/>
<line x1="160.40" y1="260.60" x2="163.40" y2="260.60" stroke="#1a1a1a" stroke-width="0.9"/>
<line x1="161.80" y1="256.77" x2="163.40" y2="256.77" stroke="#1a1a1a" stroke-width="0.9"/>
<line x1="161.80" y1="252.95" x2="163.40" y2="252.95" stroke="#1a1a1a" stroke-width="0.9"/>
<line x1="161.80" y1="249.12" x2="163.40" y2="249.12" stroke="#1a1a1a" stroke-width="0.9"/>
<line x1="160.40" y1="245.30" x2="163.40" y2="245.30" stroke="#1a1a1a" stroke-width="0.9"/>
<line x1="161.80" y1="241.47" x2="163.40" y2="241.47" stroke="#1a1a1a" stroke-width="0.9"/>
<line x1="161.80" y1="237.65" x2="163.40" y2="237.65" stroke="#1a1a1a" stroke-width="0.9"/>
<line x1="161.80" y1="233.82" x2="163.40" y2="233.82" stroke="#1a1a1a" stroke-width="0.9"/>
<line x1="160.40" y1="230.00" x2="163.40" y2="230.00" stroke="#1a1a1a" stroke-width="0.9"/>
<line x1="161.80" y1="226.18" x2="163.40" y2="226.18" stroke="#1a1a1a" stroke-width="0.9"/>
<line x1="161.80" y1="222.35" x2="163.40" y2="222.35" stroke="#1a1a1a" stroke-width="0.9"/>
<line x1="161.80" y1="218.53" x2="163.40" y2="218.53" stroke="#1a1a1a" stroke-width="0.9"/>
<line x1="160.40" y1="214.70" x2="163.40" y2="214.70" stroke="#1a1a1a" stroke-width="0.9"/>
<line x1="161.80" y1="210.88" x2="163.40" y2="210.88" stroke="#1a1a1a" stroke-width="0.9"/>
<line x1="161.80" y1="207.05" x2="163.40" y2="207.05" stroke="#1a1a1a" stroke-width="0.9"/>
<line x1="161.80" y1="203.23" x2="163.40" y2="203.23" stroke="#1a1a1a" stroke-width="0.9"/>
<line x1="160.40" y1="199.40" x2="163.40" y2="199.40" stroke="#1a1a1a" stroke-width="0.9"/>
<line x1="163.40" y1="275.90" x2="163.40" y2="278.70" stroke="#1a1a1a" stroke-width="0.8"/>
<line x1="167.86" y1="275.90" x2="167.86" y2="277.40" stroke="#1a1a1a" stroke-width="0.8"/>
<line x1="170.47" y1="275.90" x2="170.47" y2="277.40" stroke="#1a1a1a" stroke-width="0.8"/>
<line x1="172.32" y1="275.90" x2="172.32" y2="277.40" stroke="#1a1a1a" stroke-width="0.8"/>
<line x1="173.76" y1="275.90" x2="173.76" y2="277.40" stroke="#1a1a1a" stroke-width="0.8"/>
<line x1="174.93" y1="275.90" x2="174.93" y2="277.40" stroke="#1a1a1a" stroke-width="0.8"/>
<line x1="175.92" y1="275.90" x2="175.92" y2="277.40" stroke="#1a1a1a" stroke-width="0.8"/>
<line x1="176.78" y1="275.90" x2="176.78" y2="277.40" stroke="#1a1a1a" stroke-width="0.8"/>
<line x1="177.54" y1="275.90" x2="177.54" y2="277.40" stroke="#1a1a1a" stroke-width="0.8"/>
<line x1="178.22" y1="275.90" x2="178.22" y2="278.70" stroke="#1a1a1a" stroke-width="0.8"/>
<line x1="182.68" y1="275.90" x2="182.68" y2="277.40" stroke="#1a1a1a" stroke-width="0.8"/>
<line x1="185.29" y1="275.90" x2="185.29" y2="277.40" stroke="#1a1a1a" stroke-width="0.8"/>
<line x1="187.14" y1="275.90" x2="187.14" y2="277.40" stroke="#1a1a1a" stroke-width="0.8"/>
<line x1="188.58" y1="275.90" x2="188.58" y2="277.40" stroke="#1a1a1a" stroke-width="0.8"/>
<line x1="189.75" y1="275.90" x2="189.75" y2="277.40" stroke="#1a1a1a" stroke-width="0.8"/>
<line x1="190.74" y1="275.90" x2="190.74" y2="277.40" stroke="#1a1a1a" stroke-width="0.8"/>
<line x1="191.60" y1="275.90" x2="191.60" y2="277.40" stroke="#1a1a1a" stroke-width="0.8"/>
<line x1="192.36" y1="275.90" x2="192.36" y2="277.40" stroke="#1a1a1a" stroke-width="0.8"/>
<line x1="193.04" y1="275.90" x2="193.04" y2="278.70" stroke="#1a1a1a" stroke-width="0.8"/>
<line x1="197.50" y1="275.90" x2="197.50" y2="277.40" stroke="#1a1a1a" stroke-width="0.8"/>
<line x1="200.11" y1="275.90" x2="200.11" y2="277.40" stroke="#1a1a1a" stroke-width="0.8"/>
<line x1="201.96" y1="275.90" x2="201.96" y2="277.40" stroke="#1a1a1a" stroke-width="0.8"/>
<line x1="203.40" y1="275.90" x2="203.40" y2="277.40" stroke="#1a1a1a" stroke-width="0.8"/>
<line x1="204.57" y1="275.90" x2="204.57" y2="277.40" stroke="#1a1a1a" stroke-width="0.8"/>
<line x1="205.56" y1="275.90" x2="205.56" y2="277.40" stroke="#1a1a1a" stroke-width="0.8"/>
<line x1="206.42" y1="275.90" x2="206.42" y2="277.40" stroke="#1a1a1a" stroke-width="0.8"/>
<line x1="207.18" y1="275.90" x2="207.18" y2="277.40" stroke="#1a1a1a" stroke-width="0.8"/>
<line x1="207.86" y1="275.90" x2="207.86" y2="278.70" stroke="#1a1a1a" stroke-width="0.8"/>
<line x1="212.32" y1="275.90" x2="212.32" y2="277.40" stroke="#1a1a1a" stroke-width="0.8"/>
<line x1="214.93" y1="275.90" x2="214.93" y2="277.40" stroke="#1a1a1a" stroke-width="0.8"/>
<line x1="216.78" y1="275.90" x2="216.78" y2="277.40" stroke="#1a1a1a" stroke-width="0.8"/>
<line x1="218.22" y1="275.90" x2="218.22" y2="277.40" stroke="#1a1a1a" stroke-width="0.8"/>
<line x1="219.39" y1="275.90" x2="219.39" y2="277.40" stroke="#1a1a1a" stroke-width="0.8"/>
<line x1="220.38" y1="275.90" x2="220.38" y2="277.40" stroke="#1a1a1a" stroke-width="0.8"/>
<line x1="221.24" y1="275.90" x2="221.24" y2="277.40" stroke="#1a1a1a" stroke-width="0.8"/>
<line x1="222.00" y1="275.90" x2="222.00" y2="277.40" stroke="#1a1a1a" stroke-width="0.8"/>
<line x1="222.68" y1="275.90" x2="222.68" y2="278.70" stroke="#1a1a1a" stroke-width="0.8"/>
<line x1="227.14" y1="275.90" x2="227.14" y2="277.40" stroke="#1a1a1a" stroke-width="0.8"/>
<line x1="229.75" y1="275.90" x2="229.75" y2="277.40" stroke="#1a1a1a" stroke-width="0.8"/>
<line x1="231.60" y1="275.90" x2="231.60" y2="277.40" stroke="#1a1a1a" stroke-width="0.8"/>
<line x1="233.04" y1="275.90" x2="233.04" y2="277.40" stroke="#1a1a1a" stroke-width="0.8"/>
<line x1="234.21" y1="275.90" x2="234.21" y2="277.40" stroke="#1a1a1a" stroke-width="0.8"/>
<line x1="235.20" y1="275.90" x2="235.20" y2="277.40" stroke="#1a1a1a" stroke-width="0.8"/>
<line x1="236.06" y1="275.90" x2="236.06" y2="277.40" stroke="#1a1a1a" stroke-width="0.8"/>
<line x1="236.82" y1="275.90" x2="236.82" y2="277.40" stroke="#1a1a1a" stroke-width="0.8"/>
<line x1="237.50" y1="275.90" x2="237.50" y2="278.70" stroke="#1a1a1a" stroke-width="0.8"/>
<line x1="241.96" y1="275.90" x2="241.96" y2="277.40" stroke="#1a1a1a" stroke-width="0.8"/>
<text x="158.20" y="289.80" font-size="7.4" textLength="8.10" lengthAdjust="spacingAndGlyphs">10</text>
<text x="166.20" y="287.10" font-size="5.0">0</text>
<text x="173.02" y="289.80" font-size="7.4" textLength="8.10" lengthAdjust="spacingAndGlyphs">10</text>
<text x="181.02" y="287.10" font-size="5.0">1</text>
<text x="187.84" y="289.80" font-size="7.4" textLength="8.10" lengthAdjust="spacingAndGlyphs">10</text>
<text x="195.84" y="287.10" font-size="5.0">2</text>
<text x="202.66" y="289.80" font-size="7.4" textLength="8.10" lengthAdjust="spacingAndGlyphs">10</text>
<text x="210.66" y="287.10" font-size="5.0">3</text>
<text x="217.48" y="289.80" font-size="7.4" textLength="8.10" lengthAdjust="spacingAndGlyphs">10</text>
<text x="225.48" y="287.10" font-size="5.0">4</text>
<text x="232.30" y="289.80" font-size="7.4" textLength="8.10" lengthAdjust="spacingAndGlyphs">10</text>
<text x="240.30" y="287.10" font-size="5.0">5</text>
<text x="188.85" y="190.40" font-size="7.6" textLength="19.80" lengthAdjust="spacingAndGlyphs">PAC-1</text>
<rect x="280.60" y="194.80" width="84.60" height="81.10" fill="none" stroke="#1a1a1a" stroke-width="1.3"/>
<line x1="277.60" y1="275.90" x2="280.60" y2="275.90" stroke="#1a1a1a" stroke-width="0.9"/>
<line x1="279.00" y1="272.07" x2="280.60" y2="272.07" stroke="#1a1a1a" stroke-width="0.9"/>
<line x1="279.00" y1="268.25" x2="280.60" y2="268.25" stroke="#1a1a1a" stroke-width="0.9"/>
<line x1="279.00" y1="264.42" x2="280.60" y2="264.42" stroke="#1a1a1a" stroke-width="0.9"/>
<line x1="277.60" y1="260.60" x2="280.60" y2="260.60" stroke="#1a1a1a" stroke-width="0.9"/>
<line x1="279.00" y1="256.77" x2="280.60" y2="256.77" stroke="#1a1a1a" stroke-width="0.9"/>
<line x1="279.00" y1="252.95" x2="280.60" y2="252.95" stroke="#1a1a1a" stroke-width="0.9"/>
<line x1="279.00" y1="249.12" x2="280.60" y2="249.12" stroke="#1a1a1a" stroke-width="0.9"/>
<line x1="277.60" y1="245.30" x2="280.60" y2="245.30" stroke="#1a1a1a" stroke-width="0.9"/>
<line x1="279.00" y1="241.47" x2="280.60" y2="241.47" stroke="#1a1a1a" stroke-width="0.9"/>
<line x1="279.00" y1="237.65" x2="280.60" y2="237.65" stroke="#1a1a1a" stroke-width="0.9"/>
<line x1="279.00" y1="233.82" x2="280.60" y2="233.82" stroke="#1a1a1a" stroke-width="0.9"/>
<line x1="277.60" y1="230.00" x2="280.60" y2="230.00" stroke="#1a1a1a" stroke-width="0.9"/>
<line x1="279.00" y1="226.18" x2="280.60" y2="226.18" stroke="#1a1a1a" stroke-width="0.9"/>
<line x1="279.00" y1="222.35" x2="280.60" y2="222.35" stroke="#1a1a1a" stroke-width="0.9"/>
<line x1="279.00" y1="218.53" x2="280.60" y2="218.53" stroke="#1a1a1a" stroke-width="0.9"/>
<line x1="277.60" y1="214.70" x2="280.60" y2="214.70" stroke="#1a1a1a" stroke-width="0.9"/>
<line x1="279.00" y1="210.88" x2="280.60" y2="210.88" stroke="#1a1a1a" stroke-width="0.9"/>
<line x1="279.00" y1="207.05" x2="280.60" y2="207.05" stroke="#1a1a1a" stroke-width="0.9"/>
<line x1="279.00" y1="203.23" x2="280.60" y2="203.23" stroke="#1a1a1a" stroke-width="0.9"/>
<line x1="277.60" y1="199.40" x2="280.60" y2="199.40" stroke="#1a1a1a" stroke-width="0.9"/>
<line x1="280.60" y1="275.90" x2="280.60" y2="278.70" stroke="#1a1a1a" stroke-width="0.8"/>
<line x1="285.21" y1="275.90" x2="285.21" y2="277.40" stroke="#1a1a1a" stroke-width="0.8"/>
<line x1="287.91" y1="275.90" x2="287.91" y2="277.40" stroke="#1a1a1a" stroke-width="0.8"/>
<line x1="289.82" y1="275.90" x2="289.82" y2="277.40" stroke="#1a1a1a" stroke-width="0.8"/>
<line x1="291.31" y1="275.90" x2="291.31" y2="277.40" stroke="#1a1a1a" stroke-width="0.8"/>
<line x1="292.52" y1="275.90" x2="292.52" y2="277.40" stroke="#1a1a1a" stroke-width="0.8"/>
<line x1="293.55" y1="275.90" x2="293.55" y2="277.40" stroke="#1a1a1a" stroke-width="0.8"/>
<line x1="294.44" y1="275.90" x2="294.44" y2="277.40" stroke="#1a1a1a" stroke-width="0.8"/>
<line x1="295.22" y1="275.90" x2="295.22" y2="277.40" stroke="#1a1a1a" stroke-width="0.8"/>
<line x1="295.92" y1="275.90" x2="295.92" y2="278.70" stroke="#1a1a1a" stroke-width="0.8"/>
<line x1="300.53" y1="275.90" x2="300.53" y2="277.40" stroke="#1a1a1a" stroke-width="0.8"/>
<line x1="303.23" y1="275.90" x2="303.23" y2="277.40" stroke="#1a1a1a" stroke-width="0.8"/>
<line x1="305.14" y1="275.90" x2="305.14" y2="277.40" stroke="#1a1a1a" stroke-width="0.8"/>
<line x1="306.63" y1="275.90" x2="306.63" y2="277.40" stroke="#1a1a1a" stroke-width="0.8"/>
<line x1="307.84" y1="275.90" x2="307.84" y2="277.40" stroke="#1a1a1a" stroke-width="0.8"/>
<line x1="308.87" y1="275.90" x2="308.87" y2="277.40" stroke="#1a1a1a" stroke-width="0.8"/>
<line x1="309.76" y1="275.90" x2="309.76" y2="277.40" stroke="#1a1a1a" stroke-width="0.8"/>
<line x1="310.54" y1="275.90" x2="310.54" y2="277.40" stroke="#1a1a1a" stroke-width="0.8"/>
<line x1="311.24" y1="275.90" x2="311.24" y2="278.70" stroke="#1a1a1a" stroke-width="0.8"/>
<line x1="315.85" y1="275.90" x2="315.85" y2="277.40" stroke="#1a1a1a" stroke-width="0.8"/>
<line x1="318.55" y1="275.90" x2="318.55" y2="277.40" stroke="#1a1a1a" stroke-width="0.8"/>
<line x1="320.46" y1="275.90" x2="320.46" y2="277.40" stroke="#1a1a1a" stroke-width="0.8"/>
<line x1="321.95" y1="275.90" x2="321.95" y2="277.40" stroke="#1a1a1a" stroke-width="0.8"/>
<line x1="323.16" y1="275.90" x2="323.16" y2="277.40" stroke="#1a1a1a" stroke-width="0.8"/>
<line x1="324.19" y1="275.90" x2="324.19" y2="277.40" stroke="#1a1a1a" stroke-width="0.8"/>
<line x1="325.08" y1="275.90" x2="325.08" y2="277.40" stroke="#1a1a1a" stroke-width="0.8"/>
<line x1="325.86" y1="275.90" x2="325.86" y2="277.40" stroke="#1a1a1a" stroke-width="0.8"/>
<line x1="326.56" y1="275.90" x2="326.56" y2="278.70" stroke="#1a1a1a" stroke-width="0.8"/>
<line x1="331.17" y1="275.90" x2="331.17" y2="277.40" stroke="#1a1a1a" stroke-width="0.8"/>
<line x1="333.87" y1="275.90" x2="333.87" y2="277.40" stroke="#1a1a1a" stroke-width="0.8"/>
<line x1="335.78" y1="275.90" x2="335.78" y2="277.40" stroke="#1a1a1a" stroke-width="0.8"/>
<line x1="337.27" y1="275.90" x2="337.27" y2="277.40" stroke="#1a1a1a" stroke-width="0.8"/>
<line x1="338.48" y1="275.90" x2="338.48" y2="277.40" stroke="#1a1a1a" stroke-width="0.8"/>
<line x1="339.51" y1="275.90" x2="339.51" y2="277.40" stroke="#1a1a1a" stroke-width="0.8"/>
<line x1="340.40" y1="275.90" x2="340.40" y2="277.40" stroke="#1a1a1a" stroke-width="0.8"/>
<line x1="341.18" y1="275.90" x2="341.18" y2="277.40" stroke="#1a1a1a" stroke-width="0.8"/>
<line x1="341.88" y1="275.90" x2="341.88" y2="278.70" stroke="#1a1a1a" stroke-width="0.8"/>
<line x1="346.49" y1="275.90" x2="346.49" y2="277.40" stroke="#1a1a1a" stroke-width="0.8"/>
<line x1="349.19" y1="275.90" x2="349.19" y2="277.40" stroke="#1a1a1a" stroke-width="0.8"/>
<line x1="351.10" y1="275.90" x2="351.10" y2="277.40" stroke="#1a1a1a" stroke-width="0.8"/>
<line x1="352.59" y1="275.90" x2="352.59" y2="277.40" stroke="#1a1a1a" stroke-width="0.8"/>
<line x1="353.80" y1="275.90" x2="353.80" y2="277.40" stroke="#1a1a1a" stroke-width="0.8"/>
<line x1="354.83" y1="275.90" x2="354.83" y2="277.40" stroke="#1a1a1a" stroke-width="0.8"/>
<line x1="355.72" y1="275.90" x2="355.72" y2="277.40" stroke="#1a1a1a" stroke-width="0.8"/>
<line x1="356.50" y1="275.90" x2="356.50" y2="277.40" stroke="#1a1a1a" stroke-width="0.8"/>
<line x1="357.20" y1="275.90" x2="357.20" y2="278.70" stroke="#1a1a1a" stroke-width="0.8"/>
<line x1="361.81" y1="275.90" x2="361.81" y2="277.40" stroke="#1a1a1a" stroke-width="0.8"/>
<line x1="364.51" y1="275.90" x2="364.51" y2="277.40" stroke="#1a1a1a" stroke-width="0.8"/>
<text x="275.20" y="289.80" font-size="7.4" textLength="8.10" lengthAdjust="spacingAndGlyphs">10</text>
<text x="283.20" y="287.10" font-size="5.0">0</text>
<text x="290.52" y="289.80" font-size="7.4" textLength="8.10" lengthAdjust="spacingAndGlyphs">10</text>
<text x="298.52" y="287.10" font-size="5.0">1</text>
<text x="305.84" y="289.80" font-size="7.4" textLength="8.10" lengthAdjust="spacingAndGlyphs">10</text>
<text x="313.84" y="287.10" font-size="5.0">2</text>
<text x="321.16" y="289.80" font-size="7.4" textLength="8.10" lengthAdjust="spacingAndGlyphs">10</text>
<text x="329.16" y="287.10" font-size="5.0">3</text>
<text x="336.48" y="289.80" font-size="7.4" textLength="8.10" lengthAdjust="spacingAndGlyphs">10</text>
<text x="344.48" y="287.10" font-size="5.0">4</text>
<text x="351.80" y="289.80" font-size="7.4" textLength="8.10" lengthAdjust="spacingAndGlyphs">10</text>
<text x="359.80" y="287.10" font-size="5.0">5</text>
<text x="304.80" y="189.40" font-size="7.6" textLength="33.60" lengthAdjust="spacingAndGlyphs">P-selectin</text>
<polyline points="44.80,275.80 53.30,275.80 55.70,274.00 58.10,273.30 60.60,272.10 63.00,269.10 65.40,266.70 67.80,264.90 69.60,260.60 71.50,257.00 72.70,252.80 74.50,246.70 75.70,244.90 76.90,237.70 78.70,231.00 79.90,234.00 81.70,241.30 83.50,248.50 85.20,256.50 86.80,265.50 88.60,272.70 90.40,275.20 94.70,275.40 97.10,274.60 99.50,275.40 121.30,275.80" fill="none" stroke="#34527f" stroke-width="1.0" stroke-linejoin="round" stroke-linecap="round"/>
<polyline points="44.20,275.80 44.20,197.30 44.80,275.80 54.50,275.80 58.10,274.60 61.20,272.70 64.20,270.90 66.00,269.10 67.80,266.70 69.60,267.90 71.50,261.90 72.70,258.80 73.90,260.60 75.30,253.40 76.90,249.20 78.50,241.30 79.30,240.10 80.50,242.50 81.70,247.30 82.90,249.80 84.20,243.70 85.00,240.70 86.10,243.70 87.20,248.00 88.60,243.70 90.40,243.70 91.70,248.00 93.50,254.60 95.30,257.60 97.10,252.80 98.30,251.00 99.50,255.20 100.70,257.60 102.50,254.00 103.70,255.80 105.60,261.20 107.40,263.10 108.60,261.20 110.40,264.30 112.20,266.10 113.40,264.30 114.60,266.70 116.50,272.10 118.30,275.80 127.30,275.80" fill="none" stroke="#ad2a46" stroke-width="1.0" stroke-linejoin="round" stroke-linecap="round"/>
<polyline points="164.20,275.20 167.30,273.30 169.70,271.50 172.10,267.90 174.50,266.70 176.30,264.30 178.10,258.20 180.60,249.80 181.80,243.70 183.00,234.00 184.20,232.80 185.40,228.00 186.20,223.70 187.20,228.60 188.70,231.60 190.20,242.50 192.10,257.00 193.90,267.90 196.30,274.60 198.70,275.80 212.00,275.80" fill="none" stroke="#34527f" stroke-width="1.0" stroke-linejoin="round" stroke-linecap="round"/>
<polyline points="163.50,275.80 163.50,195.50 163.90,275.80 165.40,274.00 167.30,270.30 169.10,272.10 170.90,269.70 172.70,265.50 174.30,262.10 175.70,262.80 176.90,260.60 178.70,257.00 180.60,251.00 181.80,246.10 183.00,242.50 184.20,236.50 185.40,229.20 186.60,217.10 187.60,212.30 188.40,216.50 189.60,229.20 190.80,241.30 192.10,251.00 193.30,259.40 194.50,264.30 196.30,264.90 198.50,264.30 199.90,263.10 201.70,264.30 203.50,265.20 205.40,265.50 207.30,270.30 209.70,272.70 212.10,275.20 244.80,275.60" fill="none" stroke="#ad2a46" stroke-width="1.0" stroke-linejoin="round" stroke-linecap="round"/>
<polyline points="281.20,275.20 283.00,272.70 284.90,271.50 286.70,272.70 289.10,270.90 290.90,268.50 292.50,267.30 293.90,268.50 295.70,265.50 297.60,260.60 299.40,253.40 301.00,247.30 302.00,243.70 303.40,248.00 304.80,240.10 306.60,232.20 307.80,234.60 309.10,233.40 310.60,237.70 312.10,246.10 313.90,251.00 315.50,254.60 316.90,261.90 318.00,269.10 320.40,273.30 322.80,272.70 325.30,273.00 327.70,274.00 331.30,274.90 333.70,275.80" fill="none" stroke="#34527f" stroke-width="1.0" stroke-linejoin="round" stroke-linecap="round"/>
<polyline points="280.90,275.80 280.90,195.50 281.80,275.80 284.30,275.20 287.30,273.30 290.30,271.50 293.90,268.50 296.40,267.90 298.80,266.70 300.60,259.40 301.80,255.80 303.60,254.00 305.40,252.20 307.20,252.80 308.70,246.10 310.30,231.60 311.50,224.40 312.70,223.10 313.90,227.40 315.50,226.20 316.90,232.80 318.00,244.90 319.80,258.20 321.60,269.10 323.40,271.30 326.50,272.10 328.90,274.00 331.30,275.40 333.70,275.80 365.00,275.80" fill="none" stroke="#ad2a46" stroke-width="1.0" stroke-linejoin="round" stroke-linecap="round"/>
<polyline points="21.40,270.60 21.40,299.10 47.00,299.10" fill="none" stroke="#333" stroke-width="1"/>
<path d="M21.40,265.60 L24.80,273.50 L21.40,272.30 L18.00,273.50 Z" fill="#111"/>
<path d="M52.00,299.10 L44.40,296.00 L46.80,299.10 L44.40,302.20 Z" fill="#111"/>
<text transform="translate(25.0,262.8) rotate(-90)" stroke-width="0.08" font-size="10.6" textLength="25.1" lengthAdjust="spacingAndGlyphs">Count</text>
<text x="50.80" y="301.80" font-size="9.6" textLength="52.40" lengthAdjust="spacingAndGlyphs" stroke-width="0.08">Fluorescence</text>
<text x="7.50" y="334.90" font-size="10.4" stroke-width="0.08">B</text>
<text x="24.20" y="341.80" font-size="7.6" textLength="30.80" lengthAdjust="spacingAndGlyphs">ASCL-PLT</text>
<text x="24.20" y="484.70" font-size="8.4" textLength="70.40" lengthAdjust="spacingAndGlyphs">Platelet concentrates</text>
<polyline points="40.20,366.10 40.20,437.80 133.10,437.80" fill="none" stroke="#1a1a1a" stroke-width="1.35"/>
<line x1="37.00" y1="431.00" x2="40.20" y2="431.00" stroke="#1a1a1a" stroke-width="0.9"/>
<text x="33.90" y="433.45" font-size="7.0" text-anchor="end">0</text>
<line x1="37.00" y1="418.66" x2="40.20" y2="418.66" stroke="#1a1a1a" stroke-width="0.9"/>
<text x="33.90" y="421.11" font-size="7.0" text-anchor="end">20</text>
<line x1="37.00" y1="406.32" x2="40.20" y2="406.32" stroke="#1a1a1a" stroke-width="0.9"/>
<text x="33.90" y="408.77" font-size="7.0" text-anchor="end">40</text>
<line x1="37.00" y1="393.98" x2="40.20" y2="393.98" stroke="#1a1a1a" stroke-width="0.9"/>
<text x="33.90" y="396.43" font-size="7.0" text-anchor="end">60</text>
<line x1="37.00" y1="381.64" x2="40.20" y2="381.64" stroke="#1a1a1a" stroke-width="0.9"/>
<text x="33.90" y="384.09" font-size="7.0" text-anchor="end">80</text>
<line x1="37.00" y1="369.30" x2="40.20" y2="369.30" stroke="#1a1a1a" stroke-width="0.9"/>
<text x="33.90" y="371.75" font-size="7.0" text-anchor="end">100</text>
<line x1="47.50" y1="437.80" x2="47.50" y2="440.80" stroke="#1a1a1a" stroke-width="0.9"/>
<text x="47.50" y="450.70" font-size="7.0" text-anchor="middle">0</text>
<line x1="75.07" y1="437.80" x2="75.07" y2="440.80" stroke="#1a1a1a" stroke-width="0.9"/>
<text x="75.07" y="450.70" font-size="7.0" text-anchor="middle">120</text>
<line x1="102.64" y1="437.80" x2="102.64" y2="440.80" stroke="#1a1a1a" stroke-width="0.9"/>
<text x="102.64" y="450.70" font-size="7.0" text-anchor="middle">240</text>
<line x1="130.21" y1="437.80" x2="130.21" y2="440.80" stroke="#1a1a1a" stroke-width="0.9"/>
<text x="130.21" y="450.70" font-size="7.0" text-anchor="middle">360</text>
<text x="78.30" y="352.80" font-size="7.6" textLength="14.40" lengthAdjust="spacingAndGlyphs">ADP</text>
<text x="24.30" y="358.50" font-size="7.2" textLength="11.80" lengthAdjust="spacingAndGlyphs">(%)</text>
<text x="74.10" y="463.70" font-size="9.9" textLength="19.40" lengthAdjust="spacingAndGlyphs" stroke-width="0.08">Time</text>
<text x="119.60" y="463.30" font-size="7.2" textLength="15.80" lengthAdjust="spacingAndGlyphs">(sec)</text>
<polyline points="171.40,366.10 171.40,437.80 263.10,437.80" fill="none" stroke="#1a1a1a" stroke-width="1.35"/>
<line x1="168.20" y1="431.00" x2="171.40" y2="431.00" stroke="#1a1a1a" stroke-width="0.9"/>
<text x="164.90" y="433.45" font-size="7.0" text-anchor="end">0</text>
<line x1="168.20" y1="418.66" x2="171.40" y2="418.66" stroke="#1a1a1a" stroke-width="0.9"/>
<text x="164.90" y="421.11" font-size="7.0" text-anchor="end">20</text>
<line x1="168.20" y1="406.32" x2="171.40" y2="406.32" stroke="#1a1a1a" stroke-width="0.9"/>
<text x="164.90" y="408.77" font-size="7.0" text-anchor="end">40</text>
<line x1="168.20" y1="393.98" x2="171.40" y2="393.98" stroke="#1a1a1a" stroke-width="0.9"/>
<text x="164.90" y="396.43" font-size="7.0" text-anchor="end">60</text>
<line x1="168.20" y1="381.64" x2="171.40" y2="381.64" stroke="#1a1a1a" stroke-width="0.9"/>
<text x="164.90" y="384.09" font-size="7.0" text-anchor="end">80</text>
<line x1="168.20" y1="369.30" x2="171.40" y2="369.30" stroke="#1a1a1a" stroke-width="0.9"/>
<text x="164.90" y="371.75" font-size="7.0" text-anchor="end">100</text>
<line x1="179.10" y1="437.80" x2="179.10" y2="440.80" stroke="#1a1a1a" stroke-width="0.9"/>
<text x="179.10" y="450.70" font-size="7.0" text-anchor="middle">0</text>
<line x1="206.33" y1="437.80" x2="206.33" y2="440.80" stroke="#1a1a1a" stroke-width="0.9"/>
<text x="206.33" y="450.70" font-size="7.0" text-anchor="middle">120</text>
<line x1="233.56" y1="437.80" x2="233.56" y2="440.80" stroke="#1a1a1a" stroke-width="0.9"/>
<text x="233.56" y="450.70" font-size="7.0" text-anchor="middle">240</text>
<line x1="260.79" y1="437.80" x2="260.79" y2="440.80" stroke="#1a1a1a" stroke-width="0.9"/>
<text x="260.79" y="450.70" font-size="7.0" text-anchor="middle">360</text>
<text x="201.10" y="352.80" font-size="7.6" textLength="30.40" lengthAdjust="spacingAndGlyphs">Collagen</text>
<text x="155.50" y="358.50" font-size="7.2" textLength="11.80" lengthAdjust="spacingAndGlyphs">(%)</text>
<text x="205.40" y="463.70" font-size="9.9" textLength="19.70" lengthAdjust="spacingAndGlyphs" stroke-width="0.08">Time</text>
<text x="250.60" y="463.30" font-size="7.2" textLength="15.80" lengthAdjust="spacingAndGlyphs">(sec)</text>
<polyline points="296.40,366.10 296.40,437.80 389.00,437.80" fill="none" stroke="#1a1a1a" stroke-width="1.35"/>
<line x1="293.20" y1="431.00" x2="296.40" y2="431.00" stroke="#1a1a1a" stroke-width="0.9"/>
<text x="291.30" y="433.45" font-size="7.0" text-anchor="end">0</text>
<line x1="293.20" y1="418.66" x2="296.40" y2="418.66" stroke="#1a1a1a" stroke-width="0.9"/>
<text x="291.30" y="421.11" font-size="7.0" text-anchor="end">20</text>
<line x1="293.20" y1="406.32" x2="296.40" y2="406.32" stroke="#1a1a1a" stroke-width="0.9"/>
<text x="291.30" y="408.77" font-size="7.0" text-anchor="end">40</text>
<line x1="293.20" y1="393.98" x2="296.40" y2="393.98" stroke="#1a1a1a" stroke-width="0.9"/>
<text x="291.30" y="396.43" font-size="7.0" text-anchor="end">60</text>
<line x1="293.20" y1="381.64" x2="296.40" y2="381.64" stroke="#1a1a1a" stroke-width="0.9"/>
<text x="291.30" y="384.09" font-size="7.0" text-anchor="end">80</text>
<line x1="293.20" y1="369.30" x2="296.40" y2="369.30" stroke="#1a1a1a" stroke-width="0.9"/>
<text x="291.30" y="371.75" font-size="7.0" text-anchor="end">100</text>
<line x1="303.50" y1="437.80" x2="303.50" y2="440.80" stroke="#1a1a1a" stroke-width="0.9"/>
<text x="303.50" y="450.70" font-size="7.0" text-anchor="middle">0</text>
<line x1="330.87" y1="437.80" x2="330.87" y2="440.80" stroke="#1a1a1a" stroke-width="0.9"/>
<text x="330.87" y="450.70" font-size="7.0" text-anchor="middle">120</text>
<line x1="358.24" y1="437.80" x2="358.24" y2="440.80" stroke="#1a1a1a" stroke-width="0.9"/>
<text x="358.24" y="450.70" font-size="7.0" text-anchor="middle">240</text>
<line x1="385.61" y1="437.80" x2="385.61" y2="440.80" stroke="#1a1a1a" stroke-width="0.9"/>
<text x="385.61" y="450.70" font-size="7.0" text-anchor="middle">360</text>
<text x="324.60" y="352.80" font-size="7.6" textLength="33.80" lengthAdjust="spacingAndGlyphs">Ristocetin</text>
<text x="280.20" y="358.50" font-size="7.2" textLength="11.80" lengthAdjust="spacingAndGlyphs">(%)</text>
<text x="330.00" y="463.70" font-size="9.9" textLength="19.60" lengthAdjust="spacingAndGlyphs" stroke-width="0.08">Time</text>
<text x="375.60" y="463.30" font-size="7.2" textLength="15.80" lengthAdjust="spacingAndGlyphs">(sec)</text>
<polyline points="416.40,366.10 416.40,437.80 509.40,437.80" fill="none" stroke="#1a1a1a" stroke-width="1.35"/>
<line x1="413.20" y1="431.00" x2="416.40" y2="431.00" stroke="#1a1a1a" stroke-width="0.9"/>
<text x="410.90" y="433.45" font-size="7.0" text-anchor="end">0</text>
<line x1="413.20" y1="418.66" x2="416.40" y2="418.66" stroke="#1a1a1a" stroke-width="0.9"/>
<text x="410.90" y="421.11" font-size="7.0" text-anchor="end">20</text>
<line x1="413.20" y1="406.32" x2="416.40" y2="406.32" stroke="#1a1a1a" stroke-width="0.9"/>
<text x="410.90" y="408.77" font-size="7.0" text-anchor="end">40</text>
<line x1="413.20" y1="393.98" x2="416.40" y2="393.98" stroke="#1a1a1a" stroke-width="0.9"/>
<text x="410.90" y="396.43" font-size="7.0" text-anchor="end">60</text>
<line x1="413.20" y1="381.64" x2="416.40" y2="381.64" stroke="#1a1a1a" stroke-width="0.9"/>
<text x="410.90" y="384.09" font-size="7.0" text-anchor="end">80</text>
<line x1="413.20" y1="369.30" x2="416.40" y2="369.30" stroke="#1a1a1a" stroke-width="0.9"/>
<text x="410.90" y="371.75" font-size="7.0" text-anchor="end">100</text>
<line x1="423.80" y1="437.80" x2="423.80" y2="440.80" stroke="#1a1a1a" stroke-width="0.9"/>
<text x="423.80" y="450.70" font-size="7.0" text-anchor="middle">0</text>
<line x1="451.30" y1="437.80" x2="451.30" y2="440.80" stroke="#1a1a1a" stroke-width="0.9"/>
<text x="451.30" y="450.70" font-size="7.0" text-anchor="middle">120</text>
<line x1="478.80" y1="437.80" x2="478.80" y2="440.80" stroke="#1a1a1a" stroke-width="0.9"/>
<text x="478.80" y="450.70" font-size="7.0" text-anchor="middle">240</text>
<line x1="506.30" y1="437.80" x2="506.30" y2="440.80" stroke="#1a1a1a" stroke-width="0.9"/>
<text x="506.30" y="450.70" font-size="7.0" text-anchor="middle">360</text>
<text x="440.10" y="352.80" font-size="7.6" textLength="42.30" lengthAdjust="spacingAndGlyphs">Epinephrine</text>
<text x="400.90" y="358.50" font-size="7.2" textLength="11.80" lengthAdjust="spacingAndGlyphs">(%)</text>
<text x="450.40" y="463.70" font-size="9.9" textLength="19.90" lengthAdjust="spacingAndGlyphs" stroke-width="0.08">Time</text>
<text x="496.30" y="463.30" font-size="7.2" textLength="16.30" lengthAdjust="spacingAndGlyphs">(sec)</text>
<polyline points="40.20,512.60 40.20,584.30 133.10,584.30" fill="none" stroke="#1a1a1a" stroke-width="1.35"/>
<line x1="37.00" y1="577.50" x2="40.20" y2="577.50" stroke="#1a1a1a" stroke-width="0.9"/>
<text x="33.90" y="579.95" font-size="7.0" text-anchor="end">0</text>
<line x1="37.00" y1="565.16" x2="40.20" y2="565.16" stroke="#1a1a1a" stroke-width="0.9"/>
<text x="33.90" y="567.61" font-size="7.0" text-anchor="end">20</text>
<line x1="37.00" y1="552.82" x2="40.20" y2="552.82" stroke="#1a1a1a" stroke-width="0.9"/>
<text x="33.90" y="555.27" font-size="7.0" text-anchor="end">40</text>
<line x1="37.00" y1="540.48" x2="40.20" y2="540.48" stroke="#1a1a1a" stroke-width="0.9"/>
<text x="33.90" y="542.93" font-size="7.0" text-anchor="end">60</text>
<line x1="37.00" y1="528.14" x2="40.20" y2="528.14" stroke="#1a1a1a" stroke-width="0.9"/>
<text x="33.90" y="530.59" font-size="7.0" text-anchor="end">80</text>
<line x1="37.00" y1="515.80" x2="40.20" y2="515.80" stroke="#1a1a1a" stroke-width="0.9"/>
<text x="33.90" y="518.25" font-size="7.0" text-anchor="end">100</text>
<line x1="47.50" y1="584.30" x2="47.50" y2="587.30" stroke="#1a1a1a" stroke-width="0.9"/>
<text x="47.50" y="597.20" font-size="7.0" text-anchor="middle">0</text>
<line x1="75.07" y1="584.30" x2="75.07" y2="587.30" stroke="#1a1a1a" stroke-width="0.9"/>
<text x="75.07" y="597.20" font-size="7.0" text-anchor="middle">120</text>
<line x1="102.64" y1="584.30" x2="102.64" y2="587.30" stroke="#1a1a1a" stroke-width="0.9"/>
<text x="102.64" y="597.20" font-size="7.0" text-anchor="middle">240</text>
<line x1="130.21" y1="584.30" x2="130.21" y2="587.30" stroke="#1a1a1a" stroke-width="0.9"/>
<text x="130.21" y="597.20" font-size="7.0" text-anchor="middle">360</text>
<text x="78.30" y="496.40" font-size="7.6" textLength="14.40" lengthAdjust="spacingAndGlyphs">ADP</text>
<text x="24.30" y="502.80" font-size="7.2" textLength="11.80" lengthAdjust="spacingAndGlyphs">(%)</text>
<text x="74.10" y="610.20" font-size="9.9" textLength="19.40" lengthAdjust="spacingAndGlyphs" stroke-width="0.08">Time</text>
<text x="119.60" y="609.80" font-size="7.2" textLength="15.80" lengthAdjust="spacingAndGlyphs">(sec)</text>
<polyline points="171.40,512.60 171.40,584.30 263.10,584.30" fill="none" stroke="#1a1a1a" stroke-width="1.35"/>
<line x1="168.20" y1="577.50" x2="171.40" y2="577.50" stroke="#1a1a1a" stroke-width="0.9"/>
<text x="164.90" y="579.95" font-size="7.0" text-anchor="end">0</text>
<line x1="168.20" y1="565.16" x2="171.40" y2="565.16" stroke="#1a1a1a" stroke-width="0.9"/>
<text x="164.90" y="567.61" font-size="7.0" text-anchor="end">20</text>
<line x1="168.20" y1="552.82" x2="171.40" y2="552.82" stroke="#1a1a1a" stroke-width="0.9"/>
<text x="164.90" y="555.27" font-size="7.0" text-anchor="end">40</text>
<line x1="168.20" y1="540.48" x2="171.40" y2="540.48" stroke="#1a1a1a" stroke-width="0.9"/>
<text x="164.90" y="542.93" font-size="7.0" text-anchor="end">60</text>
<line x1="168.20" y1="528.14" x2="171.40" y2="528.14" stroke="#1a1a1a" stroke-width="0.9"/>
<text x="164.90" y="530.59" font-size="7.0" text-anchor="end">80</text>
<line x1="168.20" y1="515.80" x2="171.40" y2="515.80" stroke="#1a1a1a" stroke-width="0.9"/>
<text x="164.90" y="518.25" font-size="7.0" text-anchor="end">100</text>
<line x1="179.10" y1="584.30" x2="179.10" y2="587.30" stroke="#1a1a1a" stroke-width="0.9"/>
<text x="179.10" y="597.20" font-size="7.0" text-anchor="middle">0</text>
<line x1="206.33" y1="584.30" x2="206.33" y2="587.30" stroke="#1a1a1a" stroke-width="0.9"/>
<text x="206.33" y="597.20" font-size="7.0" text-anchor="middle">120</text>
<line x1="233.56" y1="584.30" x2="233.56" y2="587.30" stroke="#1a1a1a" stroke-width="0.9"/>
<text x="233.56" y="597.20" font-size="7.0" text-anchor="middle">240</text>
<line x1="260.79" y1="584.30" x2="260.79" y2="587.30" stroke="#1a1a1a" stroke-width="0.9"/>
<text x="260.79" y="597.20" font-size="7.0" text-anchor="middle">360</text>
<text x="201.10" y="496.40" font-size="7.6" textLength="30.40" lengthAdjust="spacingAndGlyphs">Collagen</text>
<text x="155.50" y="502.80" font-size="7.2" textLength="11.80" lengthAdjust="spacingAndGlyphs">(%)</text>
<text x="205.40" y="610.20" font-size="9.9" textLength="19.70" lengthAdjust="spacingAndGlyphs" stroke-width="0.08">Time</text>
<text x="250.60" y="609.80" font-size="7.2" textLength="15.80" lengthAdjust="spacingAndGlyphs">(sec)</text>
<polyline points="296.40,512.60 296.40,584.30 389.00,584.30" fill="none" stroke="#1a1a1a" stroke-width="1.35"/>
<line x1="293.20" y1="577.50" x2="296.40" y2="577.50" stroke="#1a1a1a" stroke-width="0.9"/>
<text x="291.30" y="579.95" font-size="7.0" text-anchor="end">0</text>
<line x1="293.20" y1="565.16" x2="296.40" y2="565.16" stroke="#1a1a1a" stroke-width="0.9"/>
<text x="291.30" y="567.61" font-size="7.0" text-anchor="end">20</text>
<line x1="293.20" y1="552.82" x2="296.40" y2="552.82" stroke="#1a1a1a" stroke-width="0.9"/>
<text x="291.30" y="555.27" font-size="7.0" text-anchor="end">40</text>
<line x1="293.20" y1="540.48" x2="296.40" y2="540.48" stroke="#1a1a1a" stroke-width="0.9"/>
<text x="291.30" y="542.93" font-size="7.0" text-anchor="end">60</text>
<line x1="293.20" y1="528.14" x2="296.40" y2="528.14" stroke="#1a1a1a" stroke-width="0.9"/>
<text x="291.30" y="530.59" font-size="7.0" text-anchor="end">80</text>
<line x1="293.20" y1="515.80" x2="296.40" y2="515.80" stroke="#1a1a1a" stroke-width="0.9"/>
<text x="291.30" y="518.25" font-size="7.0" text-anchor="end">100</text>
<line x1="303.50" y1="584.30" x2="303.50" y2="587.30" stroke="#1a1a1a" stroke-width="0.9"/>
<text x="303.50" y="597.20" font-size="7.0" text-anchor="middle">0</text>
<line x1="330.87" y1="584.30" x2="330.87" y2="587.30" stroke="#1a1a1a" stroke-width="0.9"/>
<text x="330.87" y="597.20" font-size="7.0" text-anchor="middle">120</text>
<line x1="358.24" y1="584.30" x2="358.24" y2="587.30" stroke="#1a1a1a" stroke-width="0.9"/>
<text x="358.24" y="597.20" font-size="7.0" text-anchor="middle">240</text>
<line x1="385.61" y1="584.30" x2="385.61" y2="587.30" stroke="#1a1a1a" stroke-width="0.9"/>
<text x="385.61" y="597.20" font-size="7.0" text-anchor="middle">360</text>
<text x="324.60" y="496.40" font-size="7.6" textLength="33.80" lengthAdjust="spacingAndGlyphs">Ristocetin</text>
<text x="280.20" y="502.80" font-size="7.2" textLength="11.80" lengthAdjust="spacingAndGlyphs">(%)</text>
<text x="330.00" y="610.20" font-size="9.9" textLength="19.60" lengthAdjust="spacingAndGlyphs" stroke-width="0.08">Time</text>
<text x="375.60" y="609.80" font-size="7.2" textLength="15.80" lengthAdjust="spacingAndGlyphs">(sec)</text>
<polyline points="416.40,512.60 416.40,584.30 509.40,584.30" fill="none" stroke="#1a1a1a" stroke-width="1.35"/>
<line x1="413.20" y1="577.50" x2="416.40" y2="577.50" stroke="#1a1a1a" stroke-width="0.9"/>
<text x="410.90" y="579.95" font-size="7.0" text-anchor="end">0</text>
<line x1="413.20" y1="565.16" x2="416.40" y2="565.16" stroke="#1a1a1a" stroke-width="0.9"/>
<text x="410.90" y="567.61" font-size="7.0" text-anchor="end">20</text>
<line x1="413.20" y1="552.82" x2="416.40" y2="552.82" stroke="#1a1a1a" stroke-width="0.9"/>
<text x="410.90" y="555.27" font-size="7.0" text-anchor="end">40</text>
<line x1="413.20" y1="540.48" x2="416.40" y2="540.48" stroke="#1a1a1a" stroke-width="0.9"/>
<text x="410.90" y="542.93" font-size="7.0" text-anchor="end">60</text>
<line x1="413.20" y1="528.14" x2="416.40" y2="528.14" stroke="#1a1a1a" stroke-width="0.9"/>
<text x="410.90" y="530.59" font-size="7.0" text-anchor="end">80</text>
<line x1="413.20" y1="515.80" x2="416.40" y2="515.80" stroke="#1a1a1a" stroke-width="0.9"/>
<text x="410.90" y="518.25" font-size="7.0" text-anchor="end">100</text>
<line x1="423.80" y1="584.30" x2="423.80" y2="587.30" stroke="#1a1a1a" stroke-width="0.9"/>
<text x="423.80" y="597.20" font-size="7.0" text-anchor="middle">0</text>
<line x1="451.30" y1="584.30" x2="451.30" y2="587.30" stroke="#1a1a1a" stroke-width="0.9"/>
<text x="451.30" y="597.20" font-size="7.0" text-anchor="middle">120</text>
<line x1="478.80" y1="584.30" x2="478.80" y2="587.30" stroke="#1a1a1a" stroke-width="0.9"/>
<text x="478.80" y="597.20" font-size="7.0" text-anchor="middle">240</text>
<line x1="506.30" y1="584.30" x2="506.30" y2="587.30" stroke="#1a1a1a" stroke-width="0.9"/>
<text x="506.30" y="597.20" font-size="7.0" text-anchor="middle">360</text>
<text x="440.10" y="496.40" font-size="7.6" textLength="42.30" lengthAdjust="spacingAndGlyphs">Epinephrine</text>
<text x="400.90" y="502.80" font-size="7.2" textLength="11.80" lengthAdjust="spacingAndGlyphs">(%)</text>
<text x="450.40" y="610.20" font-size="9.9" textLength="19.90" lengthAdjust="spacingAndGlyphs" stroke-width="0.08">Time</text>
<text x="496.30" y="609.80" font-size="7.2" textLength="16.30" lengthAdjust="spacingAndGlyphs">(sec)</text>
<text transform="translate(15.6,425.5) rotate(-90)" stroke-width="0.05" font-size="10.2" textLength="57" lengthAdjust="spacingAndGlyphs">Transmittance</text>
<text transform="translate(15.6,571.5) rotate(-90)" stroke-width="0.05" font-size="10.2" textLength="57" lengthAdjust="spacingAndGlyphs">Transmittance</text>
<polyline points="40.50,430.50 45.00,430.60 50.00,430.30 54.50,430.80 56.00,432.50 57.30,435.80 59.40,431.00 60.50,421.30 61.80,420.00 63.70,418.50 64.20,415.60 65.80,415.60 66.60,416.50 67.70,426.00 68.80,413.80 70.10,410.50 70.70,389.60 71.50,386.60 72.40,388.30 73.30,395.00 74.40,401.00 75.50,392.30 76.40,390.30 77.40,398.40 78.50,391.60 79.50,396.30 80.90,385.60 81.80,382.90 82.50,389.00 83.20,380.20 83.80,386.90 84.90,376.80 85.90,386.20 86.80,377.50 87.90,385.60 89.00,377.50 89.90,383.60 91.20,378.20 92.60,383.60 93.90,378.20 95.30,374.80 96.20,380.90 98.00,380.90 99.30,377.50 100.70,374.80 101.60,380.20 103.40,377.50 104.70,378.80 106.70,377.50 108.10,378.80 110.80,378.20 112.10,373.50 112.80,369.40 113.70,373.50 114.80,377.50 118.80,377.80 124.20,377.90 126.90,376.80 128.30,377.20 130.30,377.90" fill="none" stroke="#a3122e" stroke-width="1.1" stroke-linejoin="round" stroke-linecap="round"/>
<polyline points="171.90,431.10 172.50,431.35 173.10,431.37 173.70,430.94 174.30,430.98 174.90,431.38 175.50,431.35 176.10,431.34 176.70,431.18 177.30,431.30 177.41,430.69 177.53,430.03 177.64,429.35 177.75,428.48 177.86,427.95 177.97,427.27 178.09,426.77 178.20,426.00 179.20,425.50 179.55,426.50 179.90,427.00 179.99,427.89 180.07,428.35 180.16,428.96 180.25,429.53 180.34,430.08 180.43,430.74 180.51,431.62 180.60,432.30 180.69,432.81 180.78,433.44 180.86,434.30 180.95,434.71 181.04,435.33 181.12,435.77 181.21,436.26 181.30,437.10 181.35,436.41 181.40,435.71 181.45,435.29 181.50,434.92 181.55,434.16 181.60,433.30 181.65,433.05 181.70,432.40 181.75,431.76 181.80,431.24 181.85,430.56 181.90,429.97 181.95,429.15 182.00,428.85 182.05,428.24 182.10,427.40 182.15,427.85 182.19,428.76 182.24,429.36 182.28,429.85 182.33,430.51 182.37,431.10 182.42,431.94 182.46,432.35 182.51,433.13 182.55,433.51 182.60,434.20 183.10,433.69 183.60,432.80 184.30,433.45 185.00,433.70 185.50,432.98 186.00,432.30 186.05,431.72 186.09,431.27 186.14,430.56 186.18,429.82 186.23,429.07 186.27,428.50 186.32,428.07 186.36,427.19 186.41,426.94 186.45,426.00 186.50,425.50 186.68,425.13 186.86,424.24 187.04,423.99 187.22,423.28 187.40,422.60 187.59,422.00 187.78,421.41 187.96,420.88 188.15,420.24 188.34,419.51 188.53,418.85 188.71,418.41 188.90,417.80 189.08,417.42 189.26,416.66 189.44,415.79 189.62,415.56 189.80,414.80 189.93,414.21 190.05,413.60 190.18,412.55 190.30,412.00 190.39,411.47 190.48,410.47 190.57,410.11 190.66,409.26 190.74,408.59 190.83,408.25 190.92,407.21 191.01,406.77 191.10,406.10 191.22,405.64 191.33,404.71 191.45,404.06 191.57,403.76 191.68,402.89 191.80,402.30 191.93,401.78 192.06,400.81 192.19,400.35 192.31,399.62 192.44,399.24 192.57,398.32 192.70,397.90 193.07,397.53 193.45,396.46 193.82,396.21 194.20,395.50 194.57,394.66 194.95,394.18 195.32,393.86 195.70,393.10 196.18,392.43 196.66,391.94 197.14,391.70 197.62,391.04 198.10,390.60 198.68,390.19 199.26,390.49 199.84,389.89 200.42,389.65 201.00,389.70 201.58,389.46 202.16,389.44 202.74,389.34 203.32,388.87 203.90,388.90 204.62,388.64 205.35,388.32 206.08,388.35 206.80,388.20 207.53,388.18 208.25,388.02 208.97,387.95 209.70,387.60 210.36,387.70 211.02,387.73 211.69,387.63 212.35,387.49 213.01,387.34 213.68,387.53 214.34,387.33 215.00,387.40 215.60,387.19 216.20,387.34 216.80,387.54 217.40,387.15 218.00,387.36 218.60,387.25 219.20,387.30 219.80,387.09 220.40,387.49 221.00,387.12 221.60,387.28 222.20,387.17 222.80,386.95 223.40,387.20 224.00,386.98 224.60,386.92 225.20,386.89 225.80,386.94 226.40,386.89 227.00,387.15 227.60,387.07 228.20,387.29 228.80,387.25 229.40,387.26 230.00,387.00 230.60,386.86 231.20,386.96 231.80,386.85 232.40,387.01 233.00,387.02 233.60,387.10 234.20,387.05 234.80,386.81 235.40,386.89 236.00,386.93 236.60,386.66 237.20,386.67 237.80,386.85 238.40,386.69 239.00,386.99 239.60,386.74 240.20,386.66 240.80,386.70 241.40,386.71 242.00,386.70 242.60,386.84 243.20,386.81 243.80,386.72 244.40,386.88 245.00,386.80 245.60,386.64 246.20,386.98 246.80,387.00 247.40,386.87 248.00,386.71 248.60,386.73 249.20,386.76 249.80,386.48 250.40,386.65 251.00,386.69 251.60,386.51 252.20,386.45 252.80,386.80 253.40,386.57 254.00,386.63 254.60,386.82 255.20,386.65 255.80,386.48 256.40,386.81 257.00,386.50 257.60,386.31 258.20,386.63 258.80,386.32 259.40,386.41 260.00,386.50" fill="none" stroke="#a3122e" stroke-width="1.1" stroke-linejoin="round" stroke-linecap="round"/>
<polyline points="296.80,431.25 297.44,431.12 298.07,431.12 298.71,431.01 299.34,430.99 299.98,430.92 300.61,430.72 301.25,430.75 301.83,431.06 302.42,431.66 303.00,432.00 303.19,432.57 303.38,433.19 303.56,433.99 303.75,434.49 303.94,435.20 304.12,435.74 304.31,436.41 304.50,437.00 305.12,436.55 305.75,436.25 305.97,435.66 306.19,435.08 306.41,434.38 306.62,433.80 306.84,433.16 307.06,432.40 307.28,431.93 307.50,431.25 307.78,430.71 308.06,430.09 308.33,429.48 308.61,429.11 308.89,428.47 309.17,427.97 309.44,427.45 309.72,426.85 310.00,426.25 310.23,425.78 310.45,425.09 310.68,424.61 310.91,423.96 311.14,423.51 311.36,422.93 311.59,422.18 311.82,421.62 312.05,421.07 312.27,420.67 312.50,420.00 312.67,419.36 312.83,418.78 313.00,418.08 313.17,417.50 313.33,416.85 313.50,416.22 313.67,415.64 313.83,415.02 314.00,414.47 314.17,413.79 314.33,413.22 314.50,412.50 314.65,412.00 314.79,411.44 314.94,410.79 315.08,410.09 315.23,409.66 315.38,409.10 315.52,408.51 315.67,407.85 315.81,407.30 315.96,406.60 316.10,406.16 316.25,405.50 316.88,405.02 317.50,404.50 317.71,403.87 317.92,403.24 318.12,402.83 318.33,402.28 318.54,401.49 318.75,401.07 318.96,400.40 319.17,399.75 319.38,399.20 319.58,398.73 319.79,398.17 320.00,397.50 320.23,396.83 320.45,396.39 320.68,395.69 320.91,395.28 321.14,394.62 321.36,394.18 321.59,393.63 321.82,392.96 322.05,392.50 322.27,391.78 322.50,391.25 322.88,390.69 323.25,390.33 323.62,389.74 324.00,389.31 324.38,388.89 324.75,388.46 325.12,387.89 325.50,387.50 326.04,387.11 326.58,387.00 327.12,386.58 327.67,386.44 328.21,386.13 328.75,385.75 329.38,385.65 330.00,385.59 330.62,385.53 331.25,385.48 331.88,385.40 332.50,385.31 333.12,385.25 333.75,385.25 334.38,385.08 335.00,385.00 335.62,384.90 336.25,384.88 336.88,384.69 337.50,384.62 338.12,384.69 338.75,384.50 339.38,384.43 340.00,384.22 340.62,384.23 341.25,384.18 341.88,383.98 342.50,384.00 343.10,384.02 343.71,384.01 344.31,383.88 344.91,383.99 345.52,383.93 346.12,384.11 346.72,383.81 347.33,384.12 347.93,384.14 348.53,383.48 349.14,383.51 349.74,384.05 350.34,384.30 350.95,383.66 351.55,383.83 352.16,383.95 352.76,383.69 353.36,383.72 353.97,383.67 354.57,383.71 355.17,383.91 355.78,383.63 356.38,383.69 356.98,384.04 357.59,383.36 358.19,383.84 358.79,383.98 359.40,383.59 360.00,383.75 360.62,383.47 361.25,383.96 361.88,383.42 362.50,383.34 363.12,383.54 363.75,383.74 364.38,383.17 365.00,383.34 365.62,383.32 366.25,383.74 366.88,383.35 367.50,383.69 368.12,383.05 368.75,383.17 369.38,383.42 370.00,383.25 370.46,383.19 370.93,382.39 371.39,381.78 371.86,381.28 372.32,381.22 372.79,380.74 373.25,380.40 373.56,381.12 373.88,381.78 374.19,382.28 374.50,383.00 375.12,382.94 375.74,383.05 376.36,383.00 376.97,383.03 377.59,382.91 378.21,382.85 378.83,382.88 379.45,382.98 380.07,382.85 380.68,382.86 381.30,382.87 381.92,382.86 382.54,382.84 383.16,382.95 383.78,382.76 384.39,382.72 385.01,382.92 385.63,382.90 386.25,382.80" fill="none" stroke="#a3122e" stroke-width="1.1" stroke-linejoin="round" stroke-linecap="round"/>
<polyline points="416.80,431.30 417.32,431.04 417.84,430.88 418.36,431.09 418.88,430.85 419.40,431.10 419.86,430.59 420.32,430.74 420.78,431.04 421.24,430.80 421.70,430.40 422.20,430.70 422.70,430.31 423.20,430.66 423.70,430.70 423.75,430.03 423.80,429.46 423.85,428.92 423.90,428.52 423.95,428.65 424.00,428.08 424.05,427.58 424.10,427.09 424.15,426.09 424.20,425.71 424.25,425.49 424.30,424.90 424.60,425.56 424.90,426.13 425.20,426.30 425.29,427.07 425.37,426.83 425.46,427.72 425.54,428.22 425.63,428.52 425.71,428.68 425.80,429.40 425.88,429.88 425.95,430.05 426.02,431.27 426.10,431.71 426.18,431.94 426.25,432.23 426.32,433.25 426.40,433.40 426.42,432.98 426.44,432.77 426.46,432.26 426.49,431.49 426.51,430.93 426.53,430.61 426.55,429.99 426.57,429.28 426.59,428.93 426.61,428.88 426.64,427.75 426.66,427.27 426.68,427.29 426.70,426.70 426.72,426.05 426.74,425.81 426.76,425.30 426.77,424.73 426.79,424.83 426.81,423.69 426.83,423.41 426.85,422.77 426.87,422.68 426.89,421.92 426.90,421.53 426.92,421.40 426.94,420.58 426.96,420.32 426.98,420.15 427.00,419.01 427.01,418.52 427.03,418.20 427.05,418.20 427.07,417.61 427.09,416.83 427.11,416.45 427.13,415.86 427.14,415.64 427.16,414.83 427.18,414.93 427.20,414.30 427.30,414.19 427.40,413.40 427.87,413.72 428.33,413.47 428.80,413.20 429.12,413.19 429.45,411.99 429.78,411.82 430.10,411.60 430.55,411.55 431.00,410.70 431.45,411.38 431.90,411.60 432.00,411.97 432.10,412.88 432.20,413.05 432.30,413.67 432.40,413.67 432.50,414.04 432.60,414.70 432.70,415.20 433.10,415.34 433.50,416.10 433.75,415.55 434.00,415.59 434.25,414.61 434.50,414.30 434.70,413.44 434.90,413.03 435.10,412.69 435.30,412.77 435.50,411.97 435.70,411.46 435.90,411.20 436.00,410.41 436.10,410.71 436.20,409.79 436.30,409.15 436.40,408.58 436.50,408.12 436.60,407.77 436.70,407.60 436.86,407.31 437.01,406.41 437.17,405.88 437.32,405.81 437.48,405.16 437.63,405.36 437.79,404.17 437.94,404.07 438.10,403.60 438.30,403.39 438.50,402.64 438.70,402.69 438.90,401.82 439.10,401.40 439.18,400.68 439.25,400.32 439.32,399.51 439.40,399.33 439.48,398.69 439.55,398.73 439.62,398.18 439.70,397.40 439.80,397.85 439.90,397.90 440.00,398.54 440.10,398.98 440.20,399.40 440.30,400.10 440.73,399.57 441.17,399.81 441.60,399.20 442.05,398.55 442.50,398.50 442.95,398.09 443.40,398.81 443.85,398.48 444.30,398.82 444.75,398.29 445.20,398.69 445.65,398.46 446.10,398.30 446.62,398.47 447.14,398.35 447.66,398.06 448.18,397.63 448.70,397.90 449.15,397.48 449.60,397.87 450.05,397.71 450.50,397.20 450.95,397.59 451.40,397.13 451.85,397.43 452.30,397.59 452.75,397.49 453.20,397.40 453.65,397.82 454.10,397.72 454.55,397.98 455.00,398.00 455.45,398.16 455.91,397.80 456.36,398.36 456.82,398.39 457.27,397.64 457.73,398.40 458.18,398.39 458.64,398.14 459.09,397.61 459.55,398.34 460.00,398.00 460.46,397.66 460.93,398.36 461.39,398.09 461.85,397.55 462.31,397.62 462.78,398.00 463.24,397.93 463.70,398.06 464.17,398.20 464.63,397.58 465.09,397.37 465.56,398.14 466.02,397.35 466.48,398.06 466.94,397.40 467.41,397.97 467.87,397.93 468.33,397.99 468.80,397.69 469.26,397.95 469.72,397.36 470.19,397.74 470.65,397.43 471.11,397.89 471.57,397.77 472.04,397.49 472.50,397.50 472.95,397.50 473.41,397.05 473.86,397.04 474.32,397.49 474.77,397.38 475.23,397.67 475.68,397.43 476.14,397.01 476.59,397.18 477.05,397.50 477.50,397.27 477.95,396.81 478.41,397.49 478.86,397.46 479.32,396.81 479.77,397.17 480.23,397.01 480.68,397.34 481.14,396.91 481.59,396.82 482.05,397.01 482.50,397.00 482.68,396.94 482.86,395.74 483.04,395.30 483.21,395.27 483.39,395.04 483.57,394.27 483.75,393.80 484.00,394.02 484.25,395.90 484.50,396.06 484.75,394.09 485.00,396.00 485.45,397.28 485.91,394.93 486.36,395.27 486.82,397.07 487.27,395.65 487.73,396.91 488.18,394.74 488.64,397.13 489.09,394.74 489.55,394.63 490.00,395.78 490.45,395.23 490.91,395.91 491.36,397.12 491.82,396.44 492.27,394.03 492.73,395.05 493.18,395.83 493.64,395.61 494.09,396.37 494.55,395.56 495.00,395.60 495.46,394.16 495.92,394.73 496.38,396.78 496.85,395.11 497.31,396.51 497.77,397.25 498.23,396.03 498.69,396.20 499.15,395.97 499.62,394.97 500.08,397.00 500.54,395.49 501.00,397.00 501.46,394.94 501.92,396.85 502.38,396.58 502.85,395.98 503.31,395.40 503.77,394.38 504.23,396.52 504.69,395.13 505.15,396.15 505.62,394.35 506.08,394.18 506.54,394.39 507.00,395.60" fill="none" stroke="#a3122e" stroke-width="1.1" stroke-linejoin="round" stroke-linecap="round"/>
<polyline points="39.90,577.30 40.36,577.22 40.82,577.14 41.28,576.93 41.74,576.90 42.20,575.80 42.66,576.01 43.12,576.12 43.58,574.29 44.04,574.86 44.50,574.70 44.98,575.12 45.45,574.22 45.92,574.30 46.40,573.20 46.75,572.10 47.10,572.40" fill="none" stroke="#284880" stroke-width="1.2" stroke-linejoin="round" stroke-linecap="round"/>
<polyline points="47.30,584.00 47.30,584.08 47.30,583.64 47.30,582.46 47.30,581.52 47.30,580.49 47.30,581.31 47.30,580.43 47.30,580.50 47.30,579.23 47.30,579.52 47.30,578.02 47.30,578.58 47.30,577.93 47.30,576.80 47.30,576.55 47.30,576.33 47.30,574.85 47.30,575.07 47.30,575.07 47.30,573.49 47.30,574.06 47.30,573.33 47.30,573.14 47.30,571.62 47.30,570.64 47.30,571.55 47.30,571.06 47.30,569.83 47.30,568.63 47.30,568.33 47.30,568.71 47.30,567.52 47.30,568.34 47.30,567.11 47.30,565.83 47.30,566.24 47.30,565.15 47.30,565.79 47.30,565.24 47.30,563.95 47.30,563.71 47.30,563.31 47.30,563.03 47.30,562.86 47.30,560.47 47.30,560.63 47.30,560.61 47.30,559.51 47.30,559.58 47.30,558.90 47.55,558.58 47.80,560.66 48.05,560.45 48.30,560.90 48.76,559.83 49.22,560.63 49.68,559.62 50.14,559.09 50.60,559.40 51.17,559.19 51.75,558.33 52.33,558.29 52.90,558.70 53.29,559.04 53.67,558.32 54.06,556.56 54.45,557.71 54.84,555.80 55.23,556.04 55.61,556.80 56.00,555.60 56.46,555.62 56.92,554.77 57.38,554.69 57.84,554.50 58.30,554.50 58.82,553.43 59.35,554.85 59.88,552.63 60.40,553.20 60.89,552.76 61.37,553.12 61.86,552.14 62.34,553.02 62.83,551.26 63.31,552.44 63.80,551.20 64.24,551.64 64.68,550.86 65.12,550.96 65.56,549.73 66.00,549.50 66.50,549.98 67.00,549.73 67.50,548.98 68.00,548.71 68.50,548.99 69.00,548.40 69.56,548.10 70.11,547.34 70.67,548.55 71.23,547.47 71.79,547.80 72.34,548.28 72.90,547.60 73.42,546.74 73.94,546.24 74.46,546.25 74.98,546.98 75.50,546.60 76.04,546.38 76.58,546.23 77.12,546.68 77.66,547.70 78.20,546.90 78.72,546.26 79.23,546.42 79.75,547.21 80.27,546.52 80.78,545.69 81.30,546.00 81.82,545.83 82.33,545.72 82.85,544.93 83.37,545.29 83.88,545.03 84.40,545.30 84.94,545.79 85.48,544.71 86.02,545.26 86.56,545.76 87.10,544.70 87.63,545.49 88.15,544.34 88.68,544.74 89.21,544.12 89.74,544.22 90.26,544.35 90.79,544.91 91.32,545.14 91.85,543.79 92.37,543.17 92.90,544.10 93.43,543.96 93.95,543.14 94.48,543.05 95.01,544.50 95.54,543.14 96.06,544.32 96.59,543.57 97.12,544.69 97.65,544.48 98.17,542.86 98.70,543.70 99.23,543.05 99.75,544.52 100.28,543.82 100.81,543.40 101.34,544.08 101.86,544.11 102.39,543.43 102.92,543.35 103.45,542.57 103.97,543.06 104.50,543.30 105.03,542.57 105.55,543.51 106.08,543.46 106.61,542.52 107.14,543.47 107.66,542.39 108.19,542.38 108.72,543.45 109.25,543.06 109.77,543.92 110.30,543.10 110.83,543.32 111.35,543.43 111.88,542.24 112.41,543.62 112.94,542.09 113.46,543.12 113.99,543.67 114.52,543.62 115.05,543.56 115.57,542.64 116.10,542.70 116.63,543.09 117.15,543.28 117.68,541.97 118.21,543.59 118.74,543.52 119.26,542.58 119.79,543.26 120.32,542.59 120.85,542.25 121.37,543.12 121.90,542.70 122.41,541.79 122.92,543.23 123.43,543.55 123.94,542.13 124.45,543.40 124.95,541.65 125.46,543.16 125.97,541.97 126.48,543.31 126.99,542.20 127.50,542.30 128.06,543.26 128.62,541.60 129.18,541.83 129.74,543.41 130.30,542.90" fill="none" stroke="#284880" stroke-width="1.25" stroke-linejoin="round" stroke-linecap="round"/>
<polyline points="171.50,577.50 172.00,577.44 172.50,577.38 173.00,577.55 173.50,577.35 174.00,577.51 174.50,577.45 175.00,577.35 175.50,577.50 176.00,577.34 176.50,577.48 177.00,577.35 177.50,577.50 177.82,576.91 178.15,576.57 178.48,576.26 178.80,575.70 179.33,575.53 179.87,575.54 180.40,575.64 180.93,575.72 181.47,575.56 182.00,575.46 182.53,575.63 183.07,575.27 183.60,575.40 184.07,575.93 184.53,576.13 185.00,576.60 185.33,576.93 185.67,577.37 186.00,577.88 186.33,578.51 186.67,578.74 187.00,579.30 187.50,579.03 188.00,578.75 188.50,578.36 189.00,578.12 189.50,577.80 189.80,577.20 190.10,576.75 190.40,576.35 190.70,576.06 191.00,575.52 191.30,575.03 191.60,574.68 191.90,574.18 192.20,573.68 192.50,573.30 192.69,572.94 192.88,572.45 193.08,571.83 193.27,571.48 193.46,571.00 193.65,570.66 193.85,570.15 194.04,569.53 194.23,569.31 194.42,568.55 194.62,568.19 194.81,567.85 195.00,567.30 195.21,566.71 195.43,566.37 195.64,565.75 195.86,565.50 196.07,565.07 196.29,564.54 196.50,564.18 196.71,563.52 196.93,563.19 197.14,562.69 197.36,562.22 197.57,561.71 197.79,561.38 198.00,560.80 198.23,560.50 198.46,559.88 198.70,559.49 198.93,558.82 199.16,558.58 199.39,558.11 199.62,557.77 199.86,557.26 200.09,556.61 200.32,556.19 200.55,555.83 200.79,555.15 201.02,554.84 201.25,554.40 201.56,553.85 201.88,553.40 202.19,552.95 202.50,552.76 202.81,552.10 203.12,551.71 203.44,551.33 203.75,551.06 204.06,550.35 204.38,550.05 204.69,549.65 205.00,549.20 205.38,549.00 205.77,548.63 206.15,548.31 206.54,547.77 206.92,547.48 207.31,547.12 207.69,546.97 208.08,547.13 208.46,545.67 208.85,545.36 209.23,545.10 209.62,544.77 210.00,544.80 210.45,544.54 210.89,544.45 211.34,543.76 211.79,543.16 212.23,543.51 212.68,543.20 213.12,543.24 213.57,543.55 214.02,542.95 214.46,542.46 214.91,542.37 215.36,542.22 215.80,541.11 216.25,541.50 216.77,541.92 217.29,541.61 217.81,541.60 218.33,541.35 218.85,540.64 219.38,540.51 219.90,539.95 220.42,540.55 220.94,539.61 221.46,539.48 221.98,539.53 222.50,539.80 223.00,539.23 223.50,539.39 224.00,538.89 224.50,538.73 225.00,538.85 225.50,538.68 226.00,538.96 226.50,538.39 227.00,539.48 227.50,539.03 228.00,538.28 228.50,538.33 229.00,538.37 229.50,538.30 230.00,538.40 230.50,537.83 231.00,538.81 231.50,538.97 232.00,538.19 232.50,538.18 233.00,537.58 233.50,537.56 234.00,537.86 234.50,537.71 235.00,538.46 235.50,537.49 236.00,537.25 236.50,538.51 237.00,537.88 237.50,537.80 238.00,537.29 238.50,537.82 239.00,537.08 239.50,537.76 240.00,538.37 240.50,538.19 241.00,537.93 241.50,537.31 242.00,537.43 242.50,537.13 243.00,537.96 243.50,537.61 244.00,537.93 244.50,537.28 245.00,537.11 245.50,537.92 246.00,538.14 246.50,537.93 247.00,537.85 247.50,537.40 248.00,537.84 248.50,537.72 249.00,537.00 249.50,537.40 250.00,537.16 250.50,536.70 251.00,536.69 251.50,537.03 252.00,537.00 252.50,537.60 253.00,537.96 253.50,537.24 254.00,537.92 254.50,537.98 255.00,537.93 255.50,537.10 256.00,536.89 256.50,536.89 257.00,536.84 257.50,536.84 258.00,537.42 258.50,537.80 259.00,537.71 259.50,537.20 260.00,537.44 260.50,537.63 261.00,536.63 261.50,537.20" fill="none" stroke="#284880" stroke-width="1.2" stroke-linejoin="round" stroke-linecap="round"/>
<polyline points="296.80,578.25 297.36,578.13 297.91,578.68 298.47,578.19 299.02,578.63 299.58,578.29 300.14,578.46 300.69,579.01 301.25,578.75 301.61,578.20 301.96,578.13 302.32,577.65 302.68,577.29 303.04,576.96 303.39,576.41 303.75,576.25 304.38,576.84 305.00,577.00 305.25,576.28 305.50,575.93 305.75,575.34 306.00,575.05 306.25,574.69 306.50,574.56 306.75,573.77 307.00,573.15 307.25,572.79 307.50,572.50 307.69,572.34 307.88,571.25 308.08,571.14 308.27,570.50 308.46,570.20 308.65,569.51 308.85,569.26 309.04,568.65 309.23,568.27 309.42,567.95 309.62,567.26 309.81,566.50 310.00,566.25 310.23,565.51 310.45,565.63 310.68,564.88 310.91,564.23 311.14,564.27 311.36,563.57 311.59,563.22 311.82,562.86 312.05,562.02 312.27,561.61 312.50,561.25 312.81,561.09 313.12,560.20 313.44,560.20 313.75,559.36 314.06,559.34 314.38,558.94 314.69,558.70 315.00,558.00 315.42,557.89 315.83,557.34 316.25,556.80 316.67,556.44 317.08,556.35 317.50,556.01 317.92,555.39 318.33,555.60 318.75,555.00 319.22,554.75 319.69,554.63 320.16,553.52 320.62,553.33 321.09,552.48 321.56,553.09 322.03,552.64 322.50,553.00 322.97,552.55 323.44,552.18 323.91,553.12 324.38,553.02 324.84,550.91 325.31,551.23 325.78,550.38 326.25,551.00 326.79,551.25 327.32,551.89 327.86,549.71 328.39,551.01 328.93,549.62 329.46,548.71 330.00,549.80 330.50,550.41 331.00,549.23 331.50,548.70 332.00,549.31 332.50,548.70 333.00,549.09 333.50,549.10 334.00,548.95 334.50,549.31 335.00,549.00 335.50,548.38 336.00,547.81 336.50,547.71 337.00,547.70 337.50,548.70 338.00,548.22 338.50,549.31 339.00,548.45 339.50,548.91 340.00,548.30 340.50,549.50 341.00,547.06 341.50,546.89 342.00,547.17 342.50,547.75 343.00,548.19 343.50,548.58 344.00,547.51 344.50,549.06 345.00,547.80 345.50,546.50 346.00,548.66 346.50,547.03 347.00,548.75 347.50,546.55 348.00,548.97 348.50,548.43 349.00,549.02 349.50,547.95 350.00,546.90 350.50,548.95 351.00,547.57 351.50,546.63 352.00,547.98 352.50,547.70 353.00,547.67 353.50,547.58 354.00,546.72 354.50,546.61 355.00,547.78 355.50,547.42 356.00,546.54 356.50,547.33 357.00,548.05 357.50,547.99 358.00,547.33 358.50,547.10 359.00,546.99 359.50,546.61 360.00,547.30 360.50,546.50 361.00,547.14 361.50,546.25 362.00,547.85 362.50,547.79 363.00,547.53 363.50,545.99 364.00,546.87 364.50,547.03 365.00,547.20 365.50,546.17 366.00,548.47 366.50,547.94 367.00,547.31 367.50,547.87 368.00,546.58 368.50,546.68 369.00,547.48 369.50,548.07 370.00,547.85 370.50,546.21 371.00,547.81 371.50,548.61 372.00,548.21 372.50,547.60 373.02,548.78 373.54,548.99 374.06,547.08 374.58,547.34 375.10,548.06 375.62,549.24 376.15,547.73 376.67,549.28 377.19,549.11 377.71,548.31 378.23,548.66 378.75,548.40 379.25,549.67 379.75,549.30 380.25,548.11 380.75,549.62 381.25,548.01 381.75,548.54 382.25,550.15 382.75,549.94 383.25,548.63 383.75,548.66 384.25,549.57 384.75,550.25 385.25,549.92 385.75,550.65 386.25,549.60" fill="none" stroke="#284880" stroke-width="1.2" stroke-linejoin="round" stroke-linecap="round"/>
<polyline points="416.90,577.40 417.42,577.29 417.93,577.15 418.45,576.96 418.97,577.14 419.48,576.71 420.00,576.80 420.53,576.98 421.07,577.32 421.60,577.19 422.13,577.55 422.67,577.76 423.20,577.90 423.27,577.23 423.34,576.85 423.41,576.48 423.48,575.88 423.55,575.48 423.62,574.77 423.69,574.30 423.76,573.75 423.83,573.40 423.90,572.90 424.42,572.96 424.94,572.73 425.46,572.70 425.98,572.46 426.50,572.40 427.02,572.47 427.54,572.21 428.06,572.26 428.58,572.39 429.10,572.38 429.62,572.25 430.14,572.11 430.66,572.15 431.18,572.11 431.70,572.20 432.19,571.96 432.68,571.99 433.16,571.60 433.65,571.69 434.14,571.53 434.62,571.06 435.11,571.02 435.60,570.90 435.97,570.53 436.34,569.98 436.71,569.76 437.09,569.57 437.46,568.90 437.83,568.71 438.20,568.30 438.42,567.70 438.63,567.41 438.85,567.07 439.07,566.36 439.28,565.82 439.50,565.39 439.72,565.11 439.93,564.45 440.15,564.02 440.37,563.72 440.58,563.42 440.80,562.80 440.99,562.31 441.17,561.83 441.36,561.46 441.54,560.79 441.73,560.51 441.91,559.89 442.10,559.59 442.29,559.26 442.47,558.45 442.66,558.18 442.84,557.73 443.03,557.10 443.21,556.68 443.40,556.30 443.60,556.02 443.80,555.56 444.00,554.77 444.20,554.53 444.40,554.16 444.60,553.43 444.80,553.11 445.00,552.44 445.20,552.10 445.40,551.75 445.60,551.26 445.80,550.86 446.00,550.30 446.26,549.25 446.52,549.21 446.78,549.56 447.04,548.71 447.30,548.08 447.56,547.57 447.82,548.02 448.08,546.97 448.34,545.71 448.60,546.00 448.95,546.07 449.31,544.98 449.66,544.75 450.02,544.04 450.37,544.01 450.73,543.45 451.08,542.71 451.44,543.14 451.79,541.97 452.15,542.61 452.50,541.80 452.93,540.77 453.37,541.59 453.80,541.31 454.23,540.53 454.67,540.53 455.10,539.52 455.53,539.94 455.97,539.15 456.40,538.55 456.83,539.33 457.27,538.17 457.70,538.00 458.17,537.61 458.65,538.14 459.12,537.20 459.59,537.45 460.06,536.51 460.54,537.31 461.01,536.24 461.48,535.73 461.95,536.91 462.43,535.51 462.90,535.80 463.42,536.31 463.94,536.21 464.46,535.48 464.98,534.43 465.50,534.34 466.02,534.40 466.54,534.51 467.06,534.69 467.58,535.06 468.10,534.20 468.62,533.88 469.14,533.45 469.66,533.97 470.18,533.23 470.70,533.05 471.22,533.64 471.74,533.75 472.26,532.70 472.78,533.17 473.30,533.44 473.82,533.42 474.34,532.74 474.86,533.39 475.38,532.21 475.90,532.60 476.42,532.88 476.93,532.91 477.45,533.03 477.96,532.40 478.48,531.76 479.00,531.63 479.51,532.31 480.03,531.73 480.54,532.36 481.06,531.50 481.58,532.49 482.09,531.61 482.61,531.25 483.12,531.44 483.64,531.82 484.16,531.92 484.67,531.62 485.19,531.25 485.70,531.66 486.22,532.31 486.74,531.65 487.25,532.21 487.77,530.79 488.28,532.19 488.80,531.40 489.32,531.94 489.84,531.39 490.36,531.32 490.88,531.30 491.40,531.81 491.92,530.51 492.44,531.33 492.96,531.14 493.48,530.74 494.00,531.34 494.52,531.29 495.04,530.32 495.56,531.18 496.08,530.77 496.60,530.80 497.12,530.77 497.64,530.98 498.16,530.10 498.68,530.91 499.21,530.56 499.73,531.30 500.25,530.32 500.77,531.20 501.29,531.05 501.81,530.88 502.33,531.25 502.85,529.98 503.37,530.81 503.89,530.82 504.42,530.91 504.94,530.49 505.46,529.97 505.98,530.14 506.50,530.60" fill="none" stroke="#284880" stroke-width="1.2" stroke-linejoin="round" stroke-linecap="round"/>
<rect x="0" y="0" width="1.5" height="620" fill="#454545"/>
<rect x="0" y="0" width="520" height="1.4" fill="#454545"/>
<rect x="518.5" y="0" width="1.5" height="620" fill="#454545"/>
<rect x="0" y="618.5" width="520" height="1.5" fill="#454545"/>
</svg></body></html>
